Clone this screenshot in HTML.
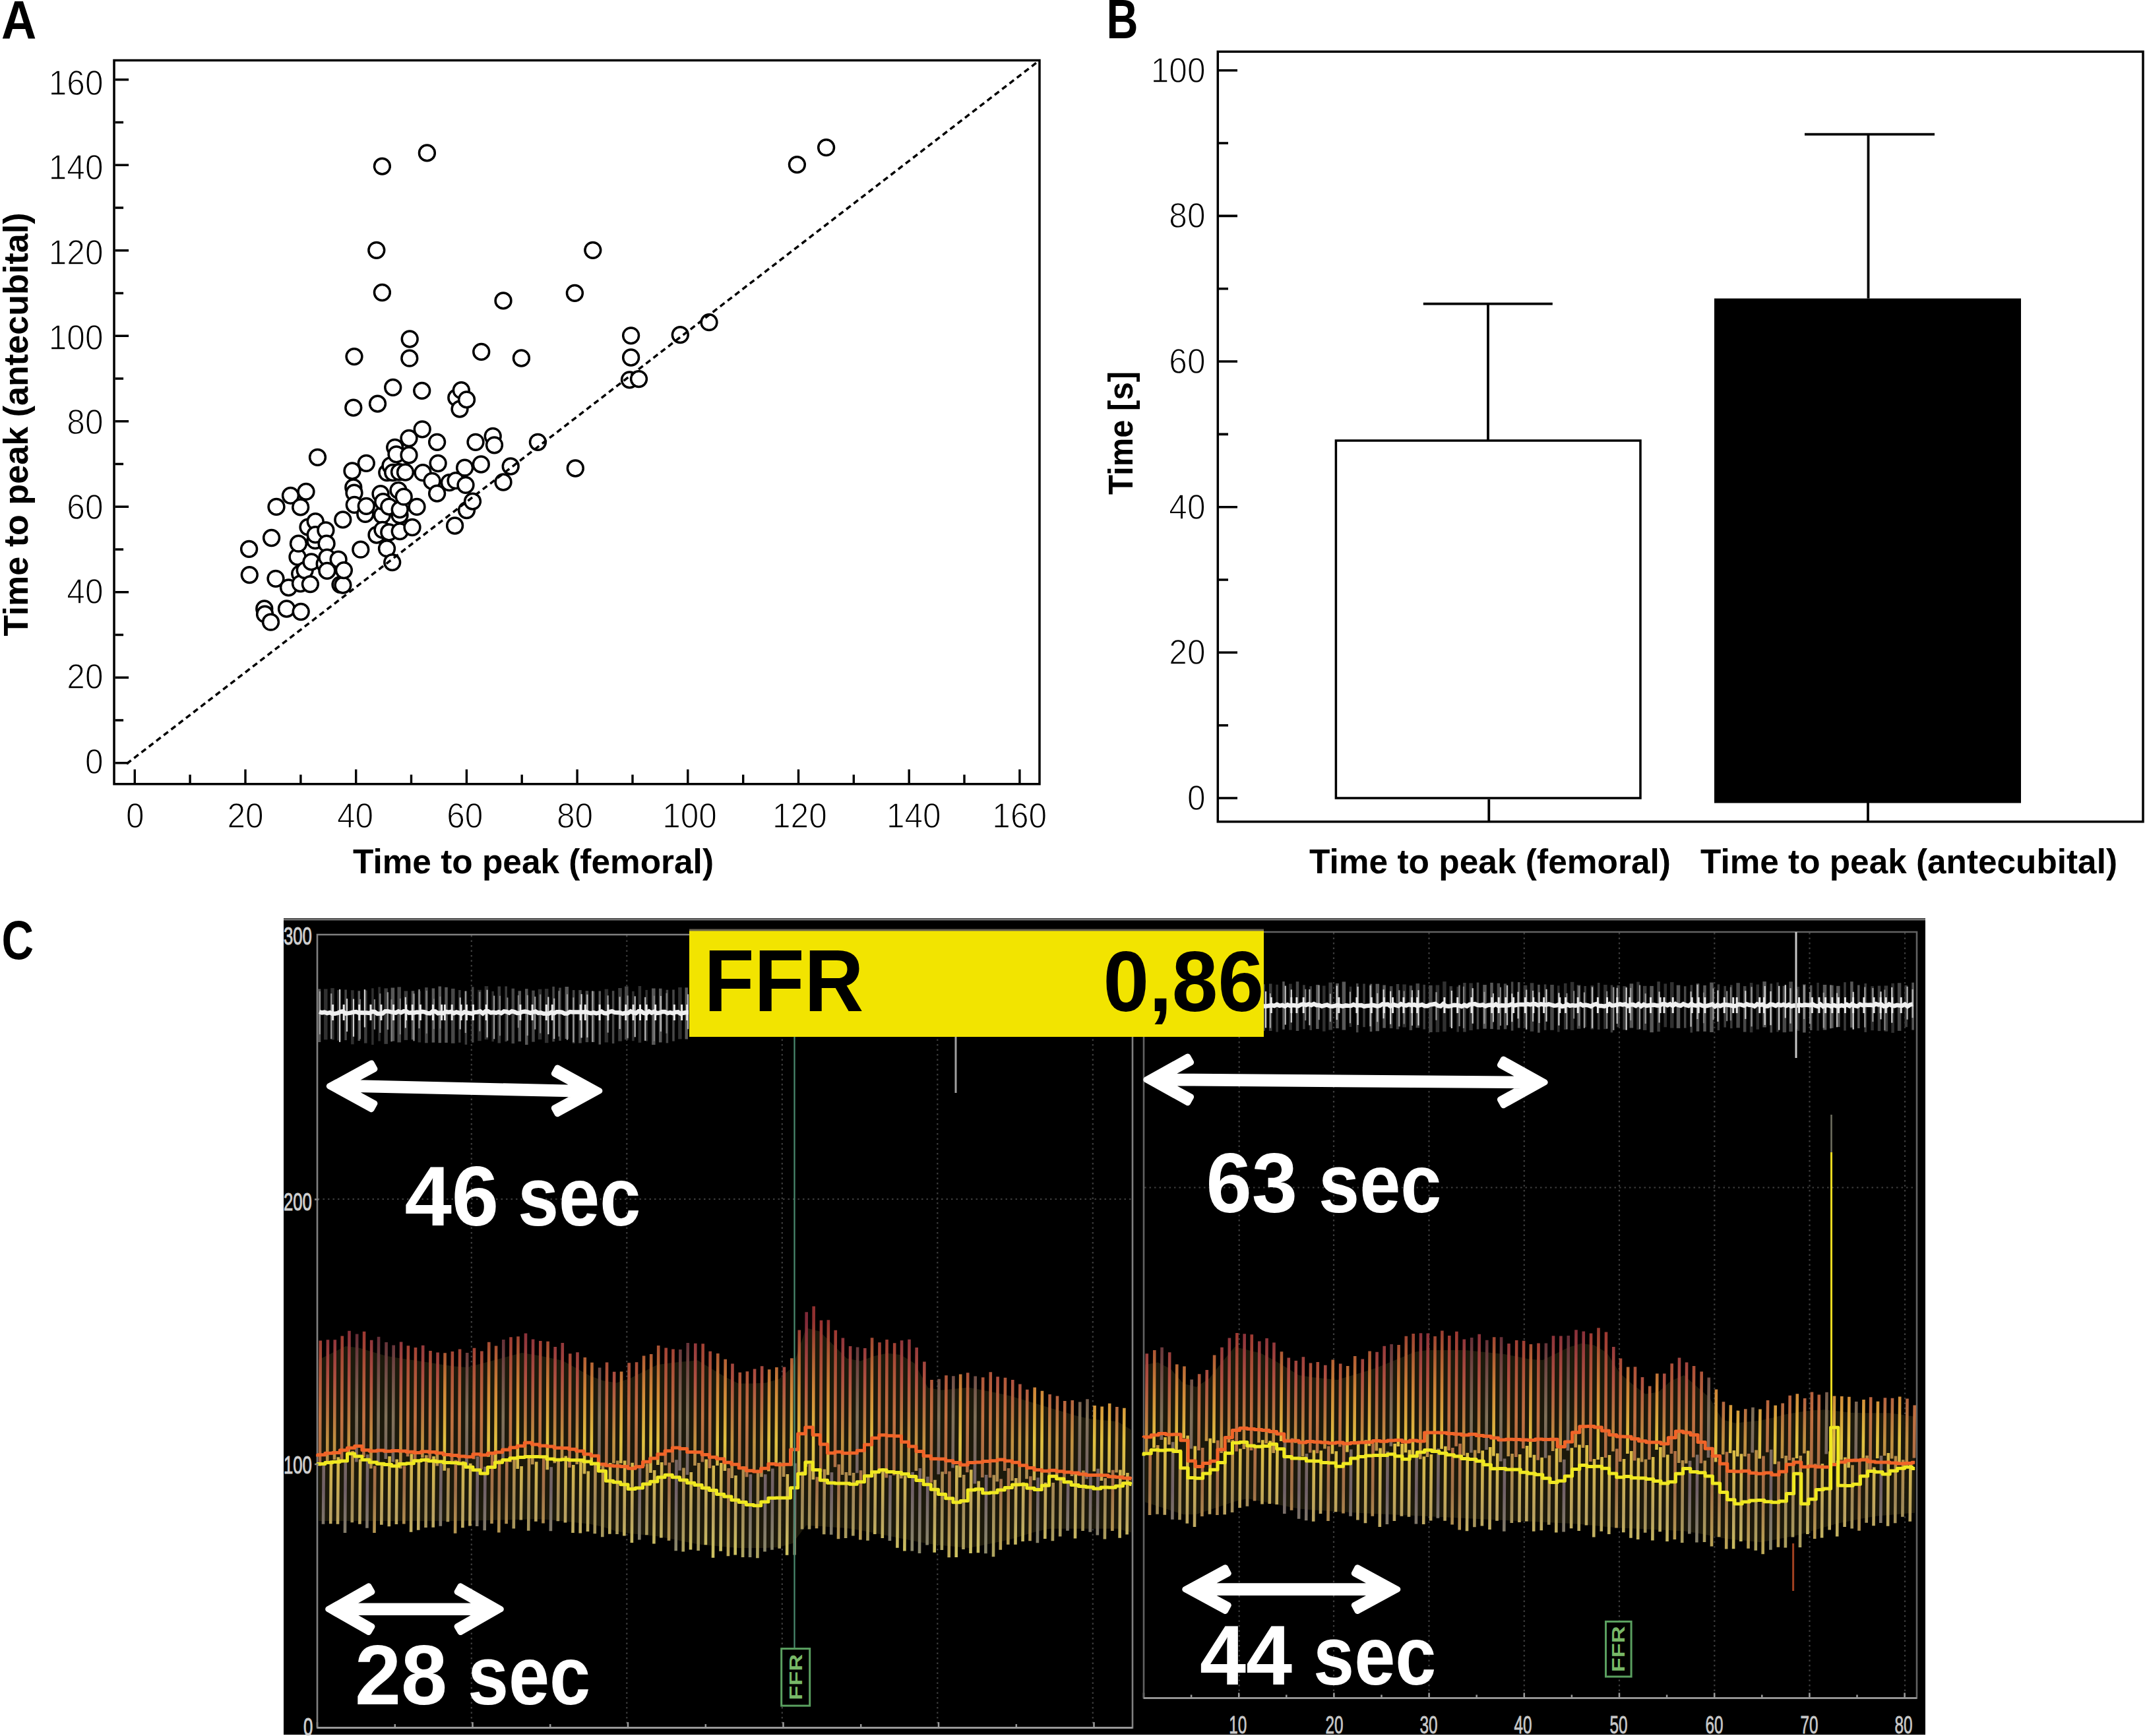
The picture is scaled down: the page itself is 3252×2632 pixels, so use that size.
<!DOCTYPE html>
<html><head><meta charset="utf-8"><style>html,body{margin:0;padding:0;background:#fff;}svg{display:block}</style></head>
<body><svg width="3252" height="2632" viewBox="0 0 3252 2632">
<g id="panelA">
<text transform="translate(2,57.5) scale(0.9,1)" font-family="'Liberation Sans', sans-serif" font-weight="bold" font-size="82">A</text>
<rect x="173" y="91.5" width="1403" height="1097.2" fill="none" stroke="#000" stroke-width="3.5"/>
<path d="M174.6 1156.8H195.1 M204.3 1187H204.3V1166.5 M174.6 1092.0H187.1 M288.1 1187H288.1V1174.5 M174.6 1027.3H195.1 M372.0 1187H372.0V1166.5 M174.6 962.5H187.1 M455.9 1187H455.9V1174.5 M174.6 897.8H195.1 M539.7 1187H539.7V1166.5 M174.6 833.0H187.1 M623.5 1187H623.5V1174.5 M174.6 768.3H195.1 M707.4 1187H707.4V1166.5 M174.6 703.5H187.1 M791.2 1187H791.2V1174.5 M174.6 638.8H195.1 M875.1 1187H875.1V1166.5 M174.6 574.0H187.1 M959.0 1187H959.0V1174.5 M174.6 509.3H195.1 M1042.8 1187H1042.8V1166.5 M174.6 444.5H187.1 M1126.7 1187H1126.7V1174.5 M174.6 379.8H195.1 M1210.5 1187H1210.5V1166.5 M174.6 315.0H187.1 M1294.3 1187H1294.3V1174.5 M174.6 250.3H195.1 M1378.2 1187H1378.2V1166.5 M174.6 185.5H187.1 M1462.0 1187H1462.0V1174.5 M174.6 120.8H195.1 M1545.9 1187H1545.9V1166.5" stroke="#000" stroke-width="3.4" fill="none"/>
<g font-family="'Liberation Sans', sans-serif" font-size="54.5" fill="#000" stroke="#fff" stroke-width="1.3"><text transform="translate(156.5,1172.5) scale(0.91,1)" text-anchor="end">0</text><text transform="translate(204.8,1255) scale(0.91,1)" text-anchor="middle">0</text><text transform="translate(156.5,1043.9) scale(0.91,1)" text-anchor="end">20</text><text transform="translate(372.0,1255) scale(0.91,1)" text-anchor="middle">20</text><text transform="translate(156.5,915.3) scale(0.91,1)" text-anchor="end">40</text><text transform="translate(538.5,1255) scale(0.91,1)" text-anchor="middle">40</text><text transform="translate(156.5,786.7) scale(0.91,1)" text-anchor="end">60</text><text transform="translate(704.8,1255) scale(0.91,1)" text-anchor="middle">60</text><text transform="translate(156.5,658.1) scale(0.91,1)" text-anchor="end">80</text><text transform="translate(871.6,1255) scale(0.91,1)" text-anchor="middle">80</text><text transform="translate(156.5,529.5) scale(0.91,1)" text-anchor="end">100</text><text transform="translate(1045.5,1255) scale(0.91,1)" text-anchor="middle">100</text><text transform="translate(156.5,400.8) scale(0.91,1)" text-anchor="end">120</text><text transform="translate(1212.4,1255) scale(0.91,1)" text-anchor="middle">120</text><text transform="translate(156.5,272.2) scale(0.91,1)" text-anchor="end">140</text><text transform="translate(1385.3,1255) scale(0.91,1)" text-anchor="middle">140</text><text transform="translate(156.5,143.6) scale(0.91,1)" text-anchor="end">160</text><text transform="translate(1545.7,1255) scale(0.91,1)" text-anchor="middle">160</text></g>
<text x="535" y="1324" font-family="'Liberation Sans', sans-serif" font-weight="bold" font-size="52" textLength="547" lengthAdjust="spacingAndGlyphs">Time to peak (femoral)</text>
<text transform="translate(42,964.5) rotate(-90)" font-family="'Liberation Sans', sans-serif" font-weight="bold" font-size="52" textLength="642" lengthAdjust="spacingAndGlyphs">Time to peak (antecubital)</text>
<g id="pts" fill="#fff" stroke="#000" stroke-width="3.5"><circle cx="377.6" cy="832.4" r="11.9"/><circle cx="378.3" cy="871.6" r="11.9"/><circle cx="400.8" cy="923" r="11.9"/><circle cx="401.6" cy="931.2" r="11.9"/><circle cx="410.5" cy="943.2" r="11.9"/><circle cx="411.6" cy="815.5" r="11.9"/><circle cx="418" cy="877.3" r="11.9"/><circle cx="419" cy="768.4" r="11.9"/><circle cx="434.5" cy="923" r="11.9"/><circle cx="437.5" cy="890.8" r="11.9"/><circle cx="440.5" cy="751.4" r="11.9"/><circle cx="451" cy="844.4" r="11.9"/><circle cx="452.5" cy="824.2" r="11.9"/><circle cx="454.7" cy="869.8" r="11.9"/><circle cx="455.5" cy="884.8" r="11.9"/><circle cx="455.7" cy="768.9" r="11.9"/><circle cx="456.2" cy="927.5" r="11.9"/><circle cx="462.2" cy="864.6" r="11.9"/><circle cx="464" cy="745.4" r="11.9"/><circle cx="467" cy="799.1" r="11.9"/><circle cx="470.4" cy="885.6" r="11.9"/><circle cx="472" cy="851.9" r="11.9"/><circle cx="477.9" cy="819.7" r="11.9"/><circle cx="478.2" cy="790.6" r="11.9"/><circle cx="478.2" cy="810.7" r="11.9"/><circle cx="481.5" cy="693.3" r="11.9"/><circle cx="492.2" cy="854.9" r="11.9"/><circle cx="493.9" cy="804" r="11.9"/><circle cx="495.1" cy="824.2" r="11.9"/><circle cx="495.9" cy="845.1" r="11.9"/><circle cx="495.9" cy="865.4" r="11.9"/><circle cx="513.1" cy="848.1" r="11.9"/><circle cx="516" cy="886.3" r="11.9"/><circle cx="519.8" cy="787.9" r="11.9"/><circle cx="519.9" cy="887.1" r="11.9"/><circle cx="521.4" cy="864.6" r="11.9"/><circle cx="534" cy="714" r="11.9"/><circle cx="535.8" cy="618.1" r="11.9"/><circle cx="535.8" cy="739" r="11.9"/><circle cx="537" cy="747.2" r="11.9"/><circle cx="537" cy="540.6" r="11.9"/><circle cx="537.3" cy="765.4" r="11.9"/><circle cx="546.8" cy="833.2" r="11.9"/><circle cx="553.8" cy="779.4" r="11.9"/><circle cx="555.3" cy="702.3" r="11.9"/><circle cx="555.3" cy="767.4" r="11.9"/><circle cx="570.8" cy="379.3" r="11.9"/><circle cx="571" cy="811" r="11.9"/><circle cx="572.5" cy="612.1" r="11.9"/><circle cx="577" cy="748.7" r="11.9"/><circle cx="579.3" cy="781" r="11.9"/><circle cx="579.4" cy="252.1" r="11.9"/><circle cx="579.4" cy="443.5" r="11.9"/><circle cx="580" cy="803.3" r="11.9"/><circle cx="580.8" cy="760.7" r="11.9"/><circle cx="586.5" cy="831.7" r="11.9"/><circle cx="586.8" cy="716.5" r="11.9"/><circle cx="589.8" cy="768.1" r="11.9"/><circle cx="589.8" cy="807" r="11.9"/><circle cx="592" cy="706" r="11.9"/><circle cx="594.7" cy="852.6" r="11.9"/><circle cx="595.7" cy="587.4" r="11.9"/><circle cx="595.7" cy="716.5" r="11.9"/><circle cx="598.7" cy="678.3" r="11.9"/><circle cx="601" cy="688.8" r="11.9"/><circle cx="604" cy="743.4" r="11.9"/><circle cx="605.5" cy="715.7" r="11.9"/><circle cx="606" cy="781" r="11.9"/><circle cx="606.2" cy="772.6" r="11.9"/><circle cx="606.2" cy="805.6" r="11.9"/><circle cx="612.2" cy="753.2" r="11.9"/><circle cx="614.5" cy="716" r="11.9"/><circle cx="620" cy="664.5" r="11.9"/><circle cx="620" cy="690" r="11.9"/><circle cx="620.8" cy="543.2" r="11.9"/><circle cx="621.2" cy="514" r="11.9"/><circle cx="625" cy="799.5" r="11.9"/><circle cx="632" cy="768.4" r="11.9"/><circle cx="639.7" cy="592.4" r="11.9"/><circle cx="640.2" cy="650.8" r="11.9"/><circle cx="641" cy="716.7" r="11.9"/><circle cx="647.4" cy="231.9" r="11.9"/><circle cx="655.1" cy="729.4" r="11.9"/><circle cx="662.6" cy="670.3" r="11.9"/><circle cx="662.6" cy="748.1" r="11.9"/><circle cx="664.1" cy="702.5" r="11.9"/><circle cx="681.3" cy="731.7" r="11.9"/><circle cx="689.6" cy="797" r="11.9"/><circle cx="691" cy="728.7" r="11.9"/><circle cx="691.8" cy="602.9" r="11.9"/><circle cx="697" cy="620.1" r="11.9"/><circle cx="699.3" cy="591.7" r="11.9"/><circle cx="704.6" cy="709.2" r="11.9"/><circle cx="706" cy="735.4" r="11.9"/><circle cx="707.5" cy="605.9" r="11.9"/><circle cx="707.5" cy="773.6" r="11.9"/><circle cx="716.5" cy="760.1" r="11.9"/><circle cx="721" cy="670.3" r="11.9"/><circle cx="729.3" cy="704" r="11.9"/><circle cx="729.7" cy="533.4" r="11.9"/><circle cx="747.2" cy="661.3" r="11.9"/><circle cx="749.5" cy="674.8" r="11.9"/><circle cx="763" cy="731" r="11.9"/><circle cx="763" cy="455.9" r="11.9"/><circle cx="774.2" cy="707" r="11.9"/><circle cx="790.4" cy="543" r="11.9"/><circle cx="815.4" cy="670.3" r="11.9"/><circle cx="871.4" cy="444.4" r="11.9"/><circle cx="872.3" cy="710" r="11.9"/><circle cx="898.8" cy="379.3" r="11.9"/><circle cx="954.5" cy="575.8" r="11.9"/><circle cx="956.6" cy="508.8" r="11.9"/><circle cx="956.6" cy="542" r="11.9"/><circle cx="968.5" cy="574.6" r="11.9"/><circle cx="1031.3" cy="507.6" r="11.9"/><circle cx="1075" cy="488.7" r="11.9"/><circle cx="1208.4" cy="249.6" r="11.9"/><circle cx="1252.6" cy="223.7" r="11.9"/></g>
<line x1="192" y1="1158" x2="1576" y2="91.5" stroke="#000" stroke-width="3.5" stroke-dasharray="8.4 5.8"/>
</g>
<g id="panelB">
<text transform="translate(1677.5,57.5) scale(0.80,1)" font-family="'Liberation Sans', sans-serif" font-weight="bold" font-size="83">B</text>
<rect x="1846.3" y="78.3" width="1402.7" height="1167.5" fill="none" stroke="#000" stroke-width="3.5"/>
<path d="M1848 1210.0H1876.0 M1848 1099.7H1862.0 M1848 989.3H1876.0 M1848 879.0H1862.0 M1848 768.7H1876.0 M1848 658.4H1862.0 M1848 548.0H1876.0 M1848 437.7H1862.0 M1848 327.4H1876.0 M1848 217.0H1862.0 M1848 106.7H1876.0" stroke="#000" stroke-width="3.6" fill="none"/>
<g font-family="'Liberation Sans', sans-serif" font-size="54.5" fill="#000" stroke="#fff" stroke-width="1.3"><text transform="translate(1827.5,1227.8) scale(0.91,1)" text-anchor="end">0</text><text transform="translate(1827.5,1007.2) scale(0.91,1)" text-anchor="end">20</text><text transform="translate(1827.5,786.5) scale(0.91,1)" text-anchor="end">40</text><text transform="translate(1827.5,565.9) scale(0.91,1)" text-anchor="end">60</text><text transform="translate(1827.5,345.2) scale(0.91,1)" text-anchor="end">80</text><text transform="translate(1827.5,124.6) scale(0.91,1)" text-anchor="end">100</text></g>
<rect x="2025.4" y="668" width="461.6" height="542" fill="#fff" stroke="#000" stroke-width="3.5"/>
<path d="M2256 668V460.7M2157.8 460.7H2353.8M2257.3 1212V1245" stroke="#000" stroke-width="3.8" fill="none"/>
<rect x="2599" y="452.5" width="465" height="765" fill="#000"/>
<path d="M2832.5 452.5V203.6M2736 203.6H2933M2832 1217V1245" stroke="#000" stroke-width="3.8" fill="none"/>
<text transform="translate(1717,750) rotate(-90)" font-family="'Liberation Sans', sans-serif" font-weight="bold" font-size="52" textLength="187" lengthAdjust="spacingAndGlyphs">Time [s]</text>
<text x="1985" y="1324" font-family="'Liberation Sans', sans-serif" font-weight="bold" font-size="52" textLength="548" lengthAdjust="spacingAndGlyphs">Time to peak (femoral)</text>
<text x="2578" y="1324" font-family="'Liberation Sans', sans-serif" font-weight="bold" font-size="52" textLength="632" lengthAdjust="spacingAndGlyphs">Time to peak (antecubital)</text>
</g>
<g id="panelC">
<text transform="translate(2.5,1453.5) scale(0.80,1)" font-family="'Liberation Sans', sans-serif" font-weight="bold" font-size="84">C</text>
<rect x="430" y="1392" width="2489" height="1238" fill="#000"/>
<rect x="430" y="1392.5" width="2489" height="3" fill="#707070"/>
<path d="M714.8 1418V2618 M950.3 1418V2618 M1185.8 1418V2618 M1421.3 1418V2618 M1656.8 1418V2618 M482 1818H1716" stroke="#3e3e3e" stroke-width="2.2" stroke-dasharray="2.5 5" fill="none"/>
<path d="M1878.7 1414V2573 M2022 1414V2573 M2166.5 1414V2573 M2310.8 1414V2573 M2455 1414V2573 M2599.3 1414V2573 M2743.5 1414V2573 M2888 1414V2573 M1735 1800.5H2905" stroke="#3e3e3e" stroke-width="2.2" stroke-dasharray="2.5 5" fill="none"/>
<path d="M481.0 2619V2611 M598.8 2619V2614 M716.5 2619V2611 M834.2 2619V2614 M952.0 2619V2611 M1069.8 2619V2614 M1187.5 2619V2611 M1305.2 2619V2614 M1423.0 2619V2611 M1540.8 2619V2614 M1658.5 2619V2611 M1734.0 2574.5V2566.5 M1806.1 2574.5V2569.5 M1878.2 2574.5V2566.5 M1950.3 2574.5V2569.5 M2022.4 2574.5V2566.5 M2094.5 2574.5V2569.5 M2166.6 2574.5V2566.5 M2238.7 2574.5V2569.5 M2310.8 2574.5V2566.5 M2382.9 2574.5V2569.5 M2455.0 2574.5V2566.5 M2527.1 2574.5V2569.5 M2599.2 2574.5V2566.5 M2671.3 2574.5V2569.5 M2743.4 2574.5V2566.5 M2815.5 2574.5V2569.5 M2887.6 2574.5V2566.5" stroke="#9a9a9a" stroke-width="2.5" fill="none"/>
<path d="M481 1417H1717V2619.5H481Z" fill="none" stroke="#808080" stroke-width="2.6"/>
<path d="M1734 1413H2906V2574.5H1734Z" fill="none" stroke="#626262" stroke-width="2.6"/>
<path d="M481 2619.5H1717M1734 2574.5H2906" fill="none" stroke="#a0a0a0" stroke-width="2.6"/>
<defs>
<linearGradient id="gA" gradientUnits="userSpaceOnUse" x1="0" y1="2000" x2="0" y2="2370">
<stop offset="0" stop-color="#802838"/><stop offset="0.25" stop-color="#b05040"/><stop offset="0.5" stop-color="#c09040"/><stop offset="0.75" stop-color="#a08858"/><stop offset="1" stop-color="#b0a860"/></linearGradient>
<linearGradient id="gB" gradientUnits="userSpaceOnUse" x1="0" y1="2000" x2="0" y2="2370">
<stop offset="0" stop-color="#903030"/><stop offset="0.3" stop-color="#d08838"/><stop offset="0.5" stop-color="#e0c040"/><stop offset="0.8" stop-color="#b8a060"/><stop offset="1" stop-color="#d0c860"/></linearGradient>
<linearGradient id="gC" gradientUnits="userSpaceOnUse" x1="0" y1="2000" x2="0" y2="2370">
<stop offset="0" stop-color="#602030"/><stop offset="0.4" stop-color="#807058"/><stop offset="0.7" stop-color="#706068"/><stop offset="1" stop-color="#90906a"/></linearGradient>
<linearGradient id="gD" gradientUnits="userSpaceOnUse" x1="0" y1="2000" x2="0" y2="2370">
<stop offset="0" stop-color="#983030"/><stop offset="0.4" stop-color="#c07040"/><stop offset="0.7" stop-color="#a07048"/><stop offset="1" stop-color="#c0b058"/></linearGradient>
</defs>
<path d="M483.0 2061.6 L503.5 2051.3 L524.1 2041.1 L544.6 2043.5 L565.1 2049.7 L585.7 2055.8 L606.2 2059.2 L626.7 2062.3 L647.3 2065.3 L667.8 2068.4 L688.3 2071.5 L708.9 2072.9 L729.4 2067.5 L749.9 2062.0 L770.5 2056.5 L791.0 2051.0 L811.5 2054.2 L832.1 2058.3 L852.6 2062.7 L873.1 2074.1 L893.7 2085.5 L914.2 2093.2 L934.7 2096.6 L955.3 2089.8 L975.8 2079.5 L996.3 2069.3 L1016.9 2066.3 L1037.4 2064.2 L1057.9 2062.6 L1078.5 2074.9 L1099.0 2087.2 L1119.5 2097.5 L1140.1 2097.5 L1160.6 2096.5 L1181.1 2090.7 L1201.7 2072.6 L1222.2 2013.2 L1242.7 2018.5 L1263.3 2039.0 L1283.8 2059.5 L1304.3 2063.6 L1324.9 2055.9 L1345.4 2051.4 L1365.9 2054.3 L1386.5 2067.1 L1407.0 2104.1 L1427.5 2107.5 L1448.1 2105.4 L1468.6 2103.4 L1489.1 2107.5 L1509.7 2111.6 L1530.2 2116.0 L1550.7 2122.1 L1571.3 2128.3 L1591.8 2134.4 L1612.3 2140.6 L1632.9 2146.8 L1653.4 2151.2 L1673.9 2153.3 L1694.5 2155.3 L1715.0 2167.7 L1715.0 2323.4 L1694.5 2317.7 L1673.9 2317.7 L1653.4 2317.7 L1632.9 2317.7 L1612.3 2317.7 L1591.8 2317.7 L1571.3 2322.1 L1550.7 2328.3 L1530.2 2334.4 L1509.7 2338.8 L1489.1 2342.9 L1468.6 2347.1 L1448.1 2345.0 L1427.5 2343.0 L1407.0 2340.6 L1386.5 2336.5 L1365.9 2332.4 L1345.4 2328.3 L1324.9 2324.2 L1304.3 2320.1 L1283.8 2317.1 L1263.3 2315.6 L1242.7 2314.1 L1222.2 2312.7 L1201.7 2340.0 L1181.1 2345.7 L1160.6 2347.1 L1140.1 2347.1 L1119.5 2347.1 L1099.0 2345.3 L1078.5 2343.3 L1057.9 2341.2 L1037.4 2337.2 L1016.9 2333.1 L996.3 2329.2 L975.8 2327.1 L955.3 2325.1 L934.7 2321.8 L914.2 2315.0 L893.7 2310.6 L873.1 2308.4 L852.6 2306.2 L832.1 2304.0 L811.5 2303.3 L791.0 2303.8 L770.5 2304.3 L749.9 2304.8 L729.4 2305.3 L708.9 2305.8 L688.3 2305.9 L667.8 2305.9 L647.3 2305.9 L626.7 2305.9 L606.2 2305.9 L585.7 2305.9 L565.1 2305.9 L544.6 2305.9 L524.1 2305.9 L503.5 2305.9 L483.0 2305.9Z" fill="#1e1a0c" opacity="0.95"/>
<path d="M496.2 2218.3L497.0 2031.3 M507.0 2213.3L507.8 2031.3 M528.7 2203.7L529.5 2017.8 M533.8 2308.3L534.6 2199.7 M562.4 2226.4L563.2 2031.7 M607.3 2226.5L608.1 2034.5 M640.4 2210.2L641.2 2039.8 M645.5 2315.9L646.3 2206.2 M662.8 2222.5L663.6 2050.4 M678.9 2307.2L679.7 2225.8 M778.8 2317.4L779.6 2212.8 M796.2 2210.2L797.0 2021.4 M801.2 2320.7L802.0 2206.2 M807.3 2220.3L808.1 2030.4 M840.9 2218.3L841.7 2042.1 M845.9 2306.2L846.7 2214.3 M852.0 2211.4L852.8 2035.9 M874.7 2220.0L875.5 2050.2 M901.8 2325.3L902.6 2217.9 M913.3 2330.3L914.1 2222.0 M930.4 2218.6L931.2 2079.7 M935.5 2325.9L936.3 2214.6 M980.4 2327.3L981.2 2219.2 M1035.7 2352.6L1036.5 2225.5 M1053.5 2222.0L1054.3 2036.7 M1058.6 2350.9L1059.4 2218.0 M1109.7 2240.9L1110.5 2067.6 M1126.1 2360.9L1126.9 2222.9 M1143.3 2232.4L1144.1 2075.6 M1148.4 2362.2L1149.2 2228.4 M1154.4 2239.2L1155.2 2071.2 M1181.7 2347.7L1182.5 2216.7 M1188.1 2238.9L1188.9 2072.5 M1216.1 2318.4L1216.9 2230.7 M1221.9 2223.7L1222.7 1989.3 M1227.0 2318.4L1227.8 2219.7 M1249.2 2326.3L1250.0 2227.4 M1277.1 2236.0L1277.9 2028.4 M1282.1 2331.9L1282.9 2232.0 M1288.3 2237.1L1289.1 2041.0 M1293.3 2328.6L1294.1 2233.1 M1310.5 2244.1L1311.3 2044.0 M1315.5 2335.8L1316.3 2240.1 M1366.3 2241.6L1367.1 2032.3 M1377.7 2236.0L1378.5 2030.8 M1388.9 2230.1L1389.7 2042.9 M1400.6 2242.8L1401.4 2064.5 M1427.9 2350.0L1428.7 2231.3 M1460.5 2349.0L1461.3 2236.1 M1506.0 2360.3L1506.8 2236.3 M1511.8 2246.2L1512.6 2087.2 M1534.5 2244.9L1535.3 2092.0 M1545.6 2251.5L1546.4 2098.4 M1556.5 2242.3L1557.3 2106.8 M1590.8 2252.0L1591.6 2114.0 M1595.9 2336.3L1596.7 2248.0 M1602.2 2244.1L1603.0 2116.6 M1607.2 2329.5L1608.0 2240.1 M1625.0 2237.9L1625.8 2122.9 M1641.6 2321.0L1642.4 2229.5 M1674.9 2333.5L1675.7 2241.1 M1692.6 2232.4L1693.4 2132.9" stroke="url(#gA)" stroke-width="4.6" fill="none"/>
<path d="M501.2 2310.2L502.0 2214.3 M512.0 2310.7L512.8 2209.3 M545.4 2310.7L546.2 2212.4 M578.3 2311.7L579.1 2217.8 M589.8 2314.2L590.6 2208.1 M600.9 2311.1L601.7 2212.6 M623.1 2322.7L623.9 2204.2 M634.2 2319.8L635.0 2213.1 M656.7 2315.7L657.5 2208.0 M673.8 2229.8L674.6 2051.3 M701.4 2316.2L702.2 2215.6 M712.4 2313.6L713.2 2218.7 M740.5 2208.8L741.3 2034.8 M751.3 2217.0L752.1 2040.4 M784.7 2227.1L785.5 2026.3 M789.8 2304.4L790.6 2223.1 M812.4 2306.7L813.2 2216.3 M829.8 2228.3L830.6 2033.8 M857.0 2308.6L857.8 2207.4 M868.5 2324.0L869.3 2221.1 M879.7 2324.5L880.5 2216.0 M886.0 2234.5L886.8 2058.1 M891.0 2322.0L891.8 2230.5 M896.7 2221.9L897.5 2065.8 M924.3 2325.7L925.1 2217.9 M941.3 2218.4L942.1 2079.5 M946.4 2328.5L947.2 2214.4 M957.9 2339.0L958.7 2217.7 M975.3 2223.2L976.1 2055.5 M986.4 2233.1L987.2 2052.9 M991.4 2340.6L992.2 2229.1 M997.4 2221.0L998.2 2039.9 M1002.4 2331.5L1003.2 2217.0 M1047.0 2349.4L1047.8 2232.0 M1069.9 2342.3L1070.7 2212.5 M1081.0 2361.8L1081.8 2222.0 M1087.5 2221.9L1088.3 2051.9 M1092.6 2351.8L1093.4 2217.9 M1098.9 2230.0L1099.7 2060.8 M1114.7 2357.5L1115.5 2236.9 M1165.4 2230.4L1166.2 2076.2 M1176.6 2220.7L1177.4 2073.1 M1193.1 2357.7L1193.9 2234.9 M1199.6 2222.5L1200.4 2059.3 M1211.0 2234.7L1211.8 2016.6 M1232.9 2243.3L1233.7 1980.5 M1255.1 2236.3L1255.9 2001.2 M1321.3 2234.6L1322.1 2028.3 M1326.3 2325.9L1327.1 2230.6 M1337.8 2331.9L1338.6 2226.1 M1360.4 2346.8L1361.2 2232.8 M1371.4 2351.4L1372.2 2237.6 M1416.7 2353.7L1417.5 2243.8 M1449.7 2360.9L1450.5 2221.4 M1455.4 2240.1L1456.2 2083.5 M1471.5 2355.1L1472.3 2228.3 M1482.9 2354.3L1483.7 2245.4 M1539.5 2341.7L1540.3 2240.9 M1550.6 2337.1L1551.4 2247.5 M1567.9 2244.2L1568.7 2103.6 M1579.2 2251.8L1580.0 2108.8 M1584.3 2333.0L1585.1 2247.8 M1630.0 2332.4L1630.8 2233.9 M1658.8 2230.8L1659.6 2130.9 M1669.9 2245.1L1670.7 2132.5 M1681.4 2232.7L1682.2 2127.8 M1697.6 2331.8L1698.4 2228.4 M1703.6 2237.0L1704.4 2134.8 M1708.6 2326.5L1709.4 2233.0" stroke="url(#gB)" stroke-width="4.6" fill="none"/>
<path d="M490.0 2310.7L490.8 2218.7 M523.0 2323.9L523.8 2213.4 M540.4 2216.4L541.2 2022.4 M556.4 2316.7L557.2 2205.2 M573.3 2221.8L574.1 2026.8 M584.8 2212.1L585.6 2034.9 M595.9 2216.6L596.7 2039.6 M667.8 2313.8L668.6 2218.5 M707.4 2222.7L708.2 2050.9 M723.2 2313.9L724.0 2208.2 M734.7 2320.2L735.5 2223.8 M762.5 2215.6L763.3 2031.0 M834.9 2321.3L835.7 2224.3 M908.3 2226.0L909.1 2073.6 M969.3 2334.4L970.1 2221.6 M1024.7 2351.3L1025.5 2213.3 M1030.6 2229.5L1031.4 2045.9 M1042.0 2236.0L1042.8 2036.0 M1137.1 2361.0L1137.9 2235.3 M1159.5 2352.5L1160.3 2235.2 M1170.5 2349.8L1171.3 2226.4 M1204.6 2357.4L1205.4 2218.5 M1260.2 2326.7L1261.0 2232.3 M1299.3 2233.3L1300.1 2042.5 M1348.9 2336.1L1349.7 2236.5 M1382.8 2351.5L1383.6 2232.0 M1394.0 2355.0L1394.8 2226.1 M1405.6 2342.5L1406.4 2238.8 M1422.8 2235.3L1423.6 2090.7 M1444.6 2225.4L1445.4 2086.2 M1477.9 2249.4L1478.7 2086.5 M1494.4 2355.2L1495.2 2236.0 M1572.9 2339.2L1573.7 2240.2 M1618.5 2320.8L1619.3 2244.1 M1636.5 2233.5L1637.3 2125.5 M1647.7 2242.3L1648.5 2121.3 M1652.7 2322.8L1653.5 2238.3 M1663.8 2327.5L1664.6 2226.8" stroke="url(#gC)" stroke-width="4.6" fill="none"/>
<path d="M485.0 2222.7L485.8 2032.5 M518.0 2217.4L518.8 2025.4 M551.3 2209.2L552.1 2018.7 M567.5 2323.9L568.3 2222.4 M612.3 2310.4L613.1 2222.5 M618.1 2208.2L618.9 2040.2 M629.2 2217.1L630.0 2042.9 M651.7 2212.0L652.5 2048.0 M685.1 2217.4L685.9 2048.9 M690.1 2324.8L690.9 2213.4 M696.3 2219.6L697.1 2045.5 M718.2 2212.2L719.0 2043.7 M729.6 2227.8L730.4 2048.6 M745.5 2309.9L746.3 2204.8 M756.3 2323.4L757.1 2213.0 M767.6 2310.3L768.4 2211.6 M773.7 2216.8L774.5 2027.2 M818.5 2211.1L819.3 2032.9 M823.5 2309.6L824.3 2207.1 M863.5 2225.1L864.3 2052.2 M919.3 2221.9L920.1 2065.4 M952.9 2221.7L953.7 2066.2 M964.3 2225.6L965.1 2065.3 M1008.9 2221.5L1009.7 2043.5 M1014.0 2335.7L1014.8 2217.5 M1019.7 2217.3L1020.5 2045.4 M1064.9 2216.5L1065.7 2037.3 M1075.9 2226.0L1076.7 2048.8 M1103.9 2359.2L1104.7 2226.0 M1121.0 2226.9L1121.8 2080.7 M1132.1 2239.3L1132.9 2079.3 M1238.0 2317.3L1238.8 2239.3 M1244.2 2231.4L1245.0 2001.8 M1266.0 2224.3L1266.8 2016.7 M1271.0 2333.3L1271.8 2220.3 M1304.3 2334.6L1305.1 2229.3 M1332.7 2230.1L1333.5 2035.3 M1343.8 2240.5L1344.6 2030.9 M1355.4 2236.8L1356.2 2036.2 M1411.7 2247.8L1412.5 2092.0 M1433.7 2234.8L1434.5 2085.3 M1438.7 2361.2L1439.5 2230.8 M1466.4 2232.3L1467.2 2081.2 M1489.4 2240.0L1490.2 2088.3 M1501.0 2240.3L1501.8 2080.2 M1516.8 2349.7L1517.6 2242.2 M1523.2 2230.1L1524.0 2088.8 M1528.3 2341.8L1529.1 2226.1 M1561.5 2336.2L1562.3 2238.3 M1613.5 2248.1L1614.3 2124.1 M1686.4 2321.1L1687.2 2228.7" stroke="url(#gD)" stroke-width="4.6" fill="none"/>
<path d="M1736.0 2069.1 L1755.5 2065.6 L1774.9 2075.5 L1794.3 2097.7 L1813.8 2102.7 L1833.2 2090.1 L1852.7 2065.1 L1872.2 2041.8 L1891.6 2046.7 L1911.0 2051.5 L1930.5 2061.5 L1950.0 2073.2 L1969.4 2084.9 L1988.8 2088.0 L2008.3 2089.9 L2027.8 2091.9 L2047.2 2086.0 L2066.7 2080.2 L2086.1 2074.1 L2105.6 2066.0 L2125.0 2057.9 L2144.4 2049.8 L2163.9 2047.1 L2183.3 2047.1 L2202.8 2047.1 L2222.2 2047.1 L2241.7 2049.0 L2261.2 2050.9 L2280.6 2053.0 L2300.1 2056.8 L2319.5 2060.7 L2338.9 2062.1 L2358.4 2052.4 L2377.8 2042.7 L2397.3 2036.8 L2416.8 2039.6 L2436.2 2050.7 L2455.7 2081.8 L2475.1 2098.8 L2494.6 2113.4 L2514.0 2110.4 L2533.4 2093.4 L2552.9 2085.0 L2572.3 2102.0 L2591.8 2119.0 L2611.2 2152.3 L2630.7 2157.5 L2650.2 2155.5 L2669.6 2153.6 L2689.1 2148.9 L2708.5 2144.1 L2727.9 2140.7 L2747.4 2138.3 L2766.8 2137.3 L2786.3 2139.5 L2805.8 2141.7 L2825.2 2142.2 L2844.7 2142.2 L2864.1 2142.2 L2883.6 2144.8 L2903.0 2147.8 L2903.0 2293.7 L2883.6 2295.3 L2864.1 2297.0 L2844.7 2298.7 L2825.2 2302.0 L2805.8 2305.9 L2786.3 2309.7 L2766.8 2315.2 L2747.4 2321.1 L2727.9 2326.9 L2708.5 2330.9 L2689.1 2334.8 L2669.6 2338.2 L2650.2 2336.3 L2630.7 2334.4 L2611.2 2332.0 L2591.8 2328.1 L2572.3 2324.2 L2552.9 2321.3 L2533.4 2320.3 L2514.0 2319.4 L2494.6 2318.4 L2475.1 2317.4 L2455.7 2316.4 L2436.2 2314.9 L2416.8 2313.0 L2397.3 2311.0 L2377.8 2309.7 L2358.4 2308.8 L2338.9 2307.8 L2319.5 2306.8 L2300.1 2305.9 L2280.6 2304.9 L2261.2 2303.9 L2241.7 2302.9 L2222.2 2302.0 L2202.8 2301.0 L2183.3 2300.0 L2163.9 2299.0 L2144.4 2298.1 L2125.0 2297.1 L2105.6 2296.1 L2086.1 2295.2 L2066.7 2294.2 L2047.2 2293.1 L2027.8 2291.8 L2008.3 2290.5 L1988.8 2289.2 L1969.4 2287.6 L1950.0 2283.7 L1930.5 2279.8 L1911.0 2275.9 L1891.6 2272.0 L1872.2 2276.5 L1852.7 2283.0 L1833.2 2289.5 L1813.8 2295.9 L1794.3 2296.2 L1774.9 2289.9 L1755.5 2283.7 L1736.0 2277.5Z" fill="#1e1a0c" opacity="0.95"/>
<path d="M1738.0 2201.4L1738.8 2052.2 M1754.5 2295.7L1755.3 2191.0 M1772.4 2190.2L1773.2 2050.3 M1788.5 2304.2L1789.3 2197.5 M1829.0 2184.7L1829.8 2077.1 M1851.7 2203.1L1852.5 2042.8 M1863.1 2187.0L1863.9 2028.6 M1868.1 2293.0L1868.9 2183.0 M1885.9 2197.0L1886.7 2022.3 M1890.9 2283.8L1891.7 2193.0 M1908.5 2187.3L1909.3 2033.6 M1919.8 2188.4L1920.6 2028.9 M1930.7 2203.1L1931.5 2035.4 M1953.0 2184.4L1953.8 2058.4 M1964.0 2187.8L1964.8 2063.0 M1975.1 2208.1L1975.9 2057.2 M2008.5 2196.5L2009.3 2069.8 M2065.0 2187.2L2065.8 2060.6 M2086.8 2199.6L2087.6 2049.7 M2097.9 2204.6L2098.7 2040.7 M2153.2 2212.2L2154.0 2021.2 M2164.0 2209.0L2164.8 2021.4 M2219.0 2206.8L2219.8 2030.6 M2235.4 2315.2L2236.2 2198.4 M2241.9 2203.3L2242.7 2022.7 M2286.7 2208.1L2287.5 2036.9 M2291.8 2309.0L2292.6 2204.1 M2348.2 2311.8L2349.0 2206.4 M2354.2 2200.0L2355.0 2025.2 M2365.6 2216.8L2366.4 2025.4 M2388.7 2194.5L2389.5 2016.2 M2400.0 2194.9L2400.8 2018.6 M2445.5 2200.5L2446.3 2042.1 M2489.2 2216.6L2490.0 2088.1 M2494.2 2323.7L2495.0 2212.6 M2522.5 2209.4L2523.3 2082.5 M2545.2 2218.1L2546.0 2058.6 M2550.2 2339.1L2551.0 2214.1 M2556.3 2218.7L2557.1 2065.4 M2584.0 2338.0L2584.8 2214.4 M2612.2 2205.3L2613.0 2125.3 M2645.5 2208.1L2646.3 2136.2 M2661.8 2350.8L2662.6 2198.4 M2701.9 2211.1L2702.7 2127.4 M2706.9 2346.5L2707.7 2207.1 M2718.0 2330.6L2718.8 2209.9 M2729.0 2346.0L2729.8 2206.9 M2735.4 2203.6L2736.2 2120.0 M2807.7 2317.5L2808.5 2221.2 M2829.7 2308.7L2830.5 2206.7 M2857.1 2206.9L2857.9 2119.3 M2868.2 2211.4L2869.0 2119.8 M2873.2 2309.3L2874.0 2207.4 M2884.4 2299.7L2885.2 2213.2 M2890.7 2221.8L2891.5 2120.6" stroke="url(#gA)" stroke-width="4.6" fill="none"/>
<path d="M1749.5 2195.0L1750.3 2047.0 M1765.8 2296.8L1766.6 2179.0 M1783.5 2201.5L1784.3 2068.4 M1794.7 2180.6L1795.5 2071.5 M1799.8 2309.8L1800.6 2176.6 M1811.0 2314.9L1811.8 2192.5 M1834.0 2295.8L1834.8 2180.7 M1840.3 2187.8L1841.1 2054.5 M1856.7 2296.3L1857.5 2199.1 M1879.6 2286.1L1880.4 2196.5 M1913.5 2280.5L1914.3 2183.3 M1924.8 2280.1L1925.6 2184.4 M1935.7 2281.0L1936.5 2199.1 M1942.2 2184.9L1943.0 2049.2 M1991.2 2306.7L1992.0 2198.4 M2002.0 2294.9L2002.8 2199.2 M2020.0 2204.3L2020.8 2061.5 M2025.0 2292.3L2025.8 2200.3 M2042.4 2201.6L2043.2 2071.1 M2053.4 2190.3L2054.2 2056.0 M2058.4 2304.4L2059.2 2186.3 M2070.0 2309.2L2070.8 2183.2 M2075.8 2192.2L2076.6 2048.6 M2091.8 2315.1L2092.6 2195.6 M2113.9 2305.9L2114.7 2188.7 M2119.8 2192.9L2120.6 2039.0 M2124.9 2298.7L2125.7 2188.9 M2131.0 2202.2L2131.8 2025.7 M2136.0 2299.8L2136.8 2198.2 M2141.9 2207.6L2142.7 2022.1 M2158.2 2311.1L2159.0 2208.2 M2169.1 2305.6L2169.9 2205.0 M2174.8 2200.2L2175.6 2026.1 M2185.6 2196.7L2186.4 2017.5 M2190.6 2305.7L2191.4 2192.7 M2224.0 2321.3L2224.8 2202.8 M2246.9 2313.4L2247.7 2199.3 M2258.5 2318.9L2259.3 2194.1 M2264.4 2207.5L2265.2 2027.2 M2269.5 2305.7L2270.3 2203.5 M2303.4 2308.1L2304.2 2205.1 M2314.3 2306.6L2315.1 2192.1 M2320.1 2209.8L2320.9 2038.1 M2325.2 2321.7L2326.0 2205.8 M2336.8 2320.3L2337.6 2209.8 M2359.3 2323.5L2360.1 2196.0 M2382.1 2317.3L2382.9 2195.3 M2393.7 2321.0L2394.5 2190.5 M2405.0 2312.4L2405.8 2190.9 M2416.3 2330.4L2417.1 2212.0 M2422.7 2212.9L2423.5 2013.2 M2427.8 2321.8L2428.6 2208.9 M2439.3 2326.0L2440.1 2206.0 M2461.3 2323.3L2462.1 2211.9 M2467.4 2204.1L2468.2 2072.5 M2472.5 2331.7L2473.3 2200.1 M2483.2 2334.1L2484.0 2210.5 M2505.4 2335.6L2506.2 2209.1 M2511.5 2198.0L2512.3 2082.6 M2516.6 2322.2L2517.4 2194.0 M2527.5 2337.1L2528.3 2205.4 M2601.1 2216.5L2601.9 2106.5 M2623.1 2203.1L2623.9 2130.2 M2628.1 2348.2L2628.9 2199.1 M2634.2 2208.3L2635.0 2138.6 M2639.3 2337.1L2640.1 2204.3 M2667.7 2211.5L2668.5 2136.4 M2690.9 2219.7L2691.7 2130.8 M2724.0 2210.9L2724.8 2113.2 M2740.4 2325.9L2741.2 2199.6 M2762.1 2331.4L2762.9 2219.3 M2773.7 2319.4L2774.5 2200.6 M2780.2 2218.5L2781.0 2116.4 M2785.2 2329.4L2786.0 2214.5 M2791.5 2213.5L2792.3 2117.0 M2796.6 2314.9L2797.4 2209.5 M2802.6 2225.2L2803.4 2117.7 M2824.7 2210.7L2825.5 2122.1 M2840.5 2313.2L2841.3 2224.5 M2846.2 2211.0L2847.0 2124.8 M2862.1 2313.7L2862.9 2202.9 M2879.4 2217.2L2880.2 2117.6 M2895.7 2306.8L2896.5 2217.8" stroke="url(#gB)" stroke-width="4.6" fill="none"/>
<path d="M1760.8 2183.0L1761.6 2042.8 M1777.4 2303.8L1778.2 2186.2 M1805.9 2196.5L1806.7 2091.4 M1947.3 2294.9L1948.1 2180.9 M1969.1 2302.8L1969.9 2183.8 M1980.2 2305.2L1981.0 2204.1 M2047.5 2298.8L2048.3 2197.6 M2102.9 2310.9L2103.7 2200.6 M2108.8 2192.7L2109.6 2037.9 M2146.9 2310.6L2147.7 2203.6 M2179.9 2301.8L2180.7 2196.2 M2230.4 2202.4L2231.2 2028.0 M2253.5 2198.1L2254.3 2031.8 M2275.3 2215.5L2276.1 2027.3 M2280.3 2321.7L2281.1 2211.5 M2343.1 2210.4L2343.9 2036.6 M2370.6 2322.5L2371.4 2212.8 M2377.0 2199.3L2377.8 2025.0 M2561.3 2325.5L2562.1 2214.7 M2572.4 2338.6L2573.2 2205.5 M2590.0 2210.0L2590.8 2088.5 M2656.7 2202.4L2657.5 2133.8 M2684.4 2349.7L2685.2 2197.8 M2768.7 2204.6L2769.5 2110.7 M2813.5 2216.4L2814.3 2125.1 M2851.3 2309.0L2852.1 2207.0" stroke="url(#gC)" stroke-width="4.6" fill="none"/>
<path d="M1743.0 2297.0L1743.8 2197.4 M1817.4 2198.9L1818.2 2083.3 M1822.4 2299.0L1823.2 2194.9 M1845.4 2297.1L1846.2 2183.8 M1874.6 2200.5L1875.4 2021.1 M1897.0 2198.9L1897.8 2023.2 M1902.1 2275.5L1902.9 2194.9 M1958.1 2289.7L1958.9 2180.4 M1986.2 2202.4L1987.0 2066.4 M1997.0 2203.2L1997.8 2065.1 M2013.5 2306.0L2014.3 2192.5 M2031.4 2193.5L2032.2 2067.6 M2036.5 2294.5L2037.3 2189.5 M2080.8 2298.8L2081.6 2188.2 M2196.5 2199.0L2197.3 2025.1 M2201.6 2311.4L2202.4 2195.0 M2207.6 2192.8L2208.4 2018.8 M2212.7 2319.6L2213.5 2188.8 M2298.4 2209.1L2299.2 2032.0 M2309.3 2196.1L2310.1 2032.7 M2331.7 2213.8L2332.5 2036.5 M2411.3 2216.0L2412.1 2021.5 M2434.2 2210.0L2435.0 2019.4 M2450.5 2316.5L2451.3 2196.5 M2456.2 2215.9L2457.0 2059.5 M2478.2 2214.5L2479.0 2072.2 M2500.4 2213.1L2501.2 2101.6 M2533.9 2203.9L2534.7 2067.3 M2538.9 2334.1L2539.7 2199.9 M2567.3 2209.5L2568.1 2070.9 M2578.9 2218.4L2579.7 2079.4 M2595.0 2344.4L2595.8 2206.0 M2606.2 2330.2L2607.0 2212.5 M2617.2 2348.4L2618.0 2201.3 M2650.5 2347.8L2651.3 2204.1 M2672.7 2356.3L2673.5 2207.5 M2679.3 2201.8L2680.1 2123.1 M2695.9 2345.7L2696.7 2215.7 M2712.9 2213.9L2713.7 2115.8 M2746.2 2223.2L2747.0 2110.5 M2751.2 2332.9L2752.0 2219.2 M2757.0 2223.3L2757.8 2114.4 M2818.5 2320.8L2819.3 2212.4 M2835.4 2228.5L2836.2 2118.2 M2901.9 2210.4L2902.7 2130.5" stroke="url(#gD)" stroke-width="4.6" fill="none"/>
<path d="M481.7 2208.5V2205.8H492.9V2203.2H504.1V2202.6H515.3V2198.8H526.5V2195.3H537.7V2192.4H548.9V2198.4H560.1V2200.0H571.3V2198.9H582.5V2200.3H593.7V2199.5H604.9V2199.9H616.1V2201.2H627.3V2202.6H638.5V2200.8H649.7V2201.4H660.9V2202.9H672.1V2205.5H683.3V2206.6H694.5V2208.1H705.7V2208.7H716.9V2204.8H728.1V2206.1H739.3V2203.3H750.5V2201.7H761.7V2198.1H772.9V2194.7H784.1V2192.2H795.3V2187.2H806.5V2190.1H817.7V2192.0H828.9V2193.0H840.1V2195.2H851.3V2195.5H862.5V2197.2H873.7V2199.9H884.9V2204.7H896.1V2207.3H907.3V2219.9H918.5V2221.9H929.7V2222.8H940.9V2223.6H952.1V2226.3H963.3V2223.8H974.5V2216.3H985.7V2211.1H996.9V2204.8H1008.1V2199.7H1019.3V2195.1H1030.5V2196.6H1041.7V2201.4H1052.9V2201.7H1064.1V2205.4H1075.3V2209.2H1086.5V2211.8H1097.7V2217.3H1108.9V2220.2H1120.1V2225.8H1131.3V2229.8H1142.5V2231.0H1153.7V2226.3H1164.9V2219.6H1176.1V2220.8H1187.3V2220.2H1198.5V2197.7H1209.7V2173.7H1220.9V2163.9H1232.1V2175.5H1243.3V2189.8H1254.5V2203.1H1265.7V2201.3H1276.9V2203.2H1288.1V2203.0H1299.3V2199.2H1310.5V2190.3H1321.7V2180.3H1332.9V2175.8H1344.1V2176.7H1355.3V2177.3H1366.5V2186.3H1377.7V2193.1H1388.9V2200.6H1400.1V2207.4H1411.3V2211.8H1422.5V2212.1H1433.7V2214.7H1444.9V2217.4H1456.1V2221.1H1467.3V2217.5H1478.5V2216.9H1489.7V2215.5H1500.9V2214.8H1512.1V2213.0H1523.3V2215.1H1534.5V2217.3H1545.7V2221.7H1556.9V2225.5H1568.1V2228.6H1579.3V2230.2H1590.5V2229.2H1601.7V2230.7H1612.9V2232.0H1624.1V2233.1H1635.3V2235.0H1646.5V2236.5H1657.7V2236.6H1668.9V2236.8H1680.1V2238.8H1691.3V2239.5H1702.5V2240.9H1713.7V2242.1H1715.3" stroke="#f06428" stroke-width="5" fill="none" stroke-linejoin="round"/>
<path d="M481.7 2220.2V2219.4H492.9V2217.5H504.1V2216.4H515.3V2215.1H526.5V2204.0H537.7V2208.0H548.9V2213.3H560.1V2217.0H571.3V2219.2H582.5V2220.4H593.7V2222.8H604.9V2219.6H616.1V2218.8H627.3V2214.7H638.5V2213.4H649.7V2214.9H660.9V2215.9H672.1V2217.6H683.3V2217.8H694.5V2219.0H705.7V2224.2H716.9V2228.7H728.1V2234.1H739.3V2224.4H750.5V2217.2H761.7V2213.5H772.9V2210.7H784.1V2209.6H795.3V2208.5H806.5V2208.6H817.7V2208.8H828.9V2212.0H840.1V2213.3H851.3V2212.7H862.5V2213.7H873.7V2213.8H884.9V2216.1H896.1V2219.1H907.3V2230.2H918.5V2245.3H929.7V2247.2H940.9V2250.8H952.1V2257.6H963.3V2256.1H974.5V2250.0H985.7V2246.2H996.9V2239.7H1008.1V2236.2H1019.3V2239.8H1030.5V2244.1H1041.7V2248.3H1052.9V2251.4H1064.1V2255.9H1075.3V2259.5H1086.5V2265.5H1097.7V2269.1H1108.9V2274.3H1120.1V2277.5H1131.3V2281.6H1142.5V2282.8H1153.7V2277.1H1164.9V2271.2H1176.1V2271.1H1187.3V2271.1H1198.5V2255.7H1209.7V2234.6H1220.9V2216.9H1232.1V2228.5H1243.3V2244.3H1254.5V2248.2H1265.7V2248.9H1276.9V2248.9H1288.1V2250.2H1299.3V2246.7H1310.5V2237.7H1321.7V2231.7H1332.9V2228.7H1344.1V2231.4H1355.3V2232.5H1366.5V2234.8H1377.7V2238.5H1388.9V2244.6H1400.1V2250.8H1411.3V2258.3H1422.5V2265.4H1433.7V2271.8H1444.9V2277.7H1456.1V2275.4H1467.3V2259.0H1478.5V2257.7H1489.7V2263.7H1500.9V2262.9H1512.1V2259.0H1523.3V2255.4H1534.5V2251.1H1545.7V2250.7H1556.9V2256.2H1568.1V2258.6H1579.3V2252.2H1590.5V2238.3H1601.7V2242.1H1612.9V2247.1H1624.1V2251.5H1635.3V2253.6H1646.5V2254.8H1657.7V2257.1H1668.9V2255.1H1680.1V2255.3H1691.3V2252.9H1702.5V2248.8H1713.7V2250.6H1715.3" stroke="#f0e820" stroke-width="5" fill="none" stroke-linejoin="round"/>
<path d="M1734.0 2179.4V2178.8H1745.2V2175.8H1756.4V2173.6H1767.6V2175.1H1778.8V2174.8H1790.0V2183.7H1801.2V2215.1H1812.4V2223.4H1823.6V2218.6H1834.8V2215.3H1846.0V2197.8H1857.2V2179.6H1868.4V2168.4H1879.6V2165.3H1890.8V2166.4H1902.0V2167.6H1913.2V2168.4H1924.4V2170.5H1935.6V2174.0H1946.8V2184.8H1958.0V2184.3H1969.2V2186.9H1980.4V2185.5H1991.6V2186.2H2002.8V2186.9H2014.0V2188.1H2025.2V2187.0H2036.4V2188.8H2047.6V2187.6H2058.8V2187.1H2070.0V2186.6H2081.2V2184.5H2092.4V2185.2H2103.6V2184.0H2114.8V2183.5H2126.0V2185.9H2137.2V2184.0H2148.4V2184.9H2159.6V2171.9H2170.8V2172.1H2182.0V2172.2H2193.2V2173.5H2204.4V2174.3H2215.6V2175.8H2226.8V2174.5H2238.0V2176.6H2249.2V2177.6H2260.4V2179.9H2271.6V2183.0H2282.8V2182.2H2294.0V2182.4H2305.2V2182.9H2316.4V2183.4H2327.6V2182.0H2338.8V2182.5H2350.0V2182.2H2361.2V2193.5H2372.4V2185.9H2383.6V2171.7H2394.8V2162.7H2406.0V2162.5H2417.2V2163.9H2428.4V2169.2H2439.6V2175.6H2450.8V2178.0H2462.0V2178.2H2473.2V2181.4H2484.4V2184.8H2495.6V2186.7H2506.8V2186.8H2518.0V2189.0H2529.2V2179.7H2540.4V2170.1H2551.6V2172.1H2562.8V2175.5H2574.0V2186.6H2585.2V2196.3H2596.4V2207.5H2607.6V2219.3H2618.8V2230.6H2630.0V2231.1H2641.2V2230.3H2652.4V2233.2H2663.6V2234.2H2674.8V2232.9H2686.0V2236.1H2697.2V2231.2H2708.4V2220.3H2719.6V2216.9H2730.8V2223.9H2742.0V2223.1H2753.2V2223.9H2764.4V2224.2H2775.6V2220.5H2786.8V2216.7H2798.0V2214.2H2809.2V2214.0H2820.4V2213.2H2831.6V2216.0H2842.8V2216.9H2854.0V2216.9H2865.2V2218.0H2876.4V2218.9H2887.6V2218.6H2898.8V2217.2H2903.2" stroke="#f06428" stroke-width="5" fill="none" stroke-linejoin="round"/>
<path d="M1734.0 2207.3V2203.8H1745.2V2198.3H1756.4V2199.0H1767.6V2198.2H1778.8V2200.6H1790.0V2225.7H1801.2V2240.4H1812.4V2241.3H1823.6V2234.1H1834.8V2228.3H1846.0V2217.5H1857.2V2203.2H1868.4V2187.6H1879.6V2186.5H1890.8V2192.1H1902.0V2193.3H1913.2V2192.5H1924.4V2189.6H1935.6V2196.8H1946.8V2208.5H1958.0V2211.0H1969.2V2211.3H1980.4V2215.1H1991.6V2215.3H2002.8V2217.4H2014.0V2218.1H2025.2V2223.2H2036.4V2218.9H2047.6V2210.9H2058.8V2208.6H2070.0V2207.1H2081.2V2206.6H2092.4V2206.6H2103.6V2204.8H2114.8V2207.7H2126.0V2212.3H2137.2V2207.7H2148.4V2201.8H2159.6V2198.6H2170.8V2200.5H2182.0V2203.2H2193.2V2205.8H2204.4V2208.0H2215.6V2211.6H2226.8V2212.4H2238.0V2215.3H2249.2V2220.7H2260.4V2226.7H2271.6V2226.5H2282.8V2228.0H2294.0V2228.1H2305.2V2232.2H2316.4V2233.9H2327.6V2235.8H2338.8V2241.3H2350.0V2247.4H2361.2V2245.3H2372.4V2238.1H2383.6V2227.6H2394.8V2221.6H2406.0V2223.6H2417.2V2223.2H2428.4V2226.3H2439.6V2233.9H2450.8V2239.8H2462.0V2238.6H2473.2V2240.7H2484.4V2241.1H2495.6V2242.5H2506.8V2245.5H2518.0V2249.1H2529.2V2246.7H2540.4V2234.3H2551.6V2226.5H2562.8V2231.4H2574.0V2232.7H2585.2V2238.0H2596.4V2248.9H2607.6V2262.4H2618.8V2273.7H2630.0V2280.0H2641.2V2276.9H2652.4V2274.9H2663.6V2274.5H2674.8V2276.8H2686.0V2277.8H2697.2V2276.1H2708.4V2264.4H2719.6V2234.2H2730.8V2280.0H2742.0V2272.9H2753.2V2258.4H2764.4V2256.9H2775.6V2164.2H2786.8V2252.2H2798.0V2252.5H2809.2V2250.2H2820.4V2237.9H2831.6V2230.5H2842.8V2231.8H2854.0V2235.0H2865.2V2230.0H2876.4V2226.3H2887.6V2224.2H2898.8V2226.6H2903.2" stroke="#f0e820" stroke-width="5" fill="none" stroke-linejoin="round"/>
<path d="M484.0 1499.4V1580.0" stroke="#585858" stroke-width="4.5"/><path d="M484.9 1503.1V1568.2" stroke="#9a9a9a" stroke-width="2.2"/><path d="M493.8 1499.4V1576.3" stroke="#303030" stroke-width="5.5"/><path d="M504.0 1498.1V1576.4" stroke="#303030" stroke-width="5.5"/><path d="M502.2 1506.3V1575.0" stroke="#9a9a9a" stroke-width="2.2"/><path d="M504.6 1523.0V1547.0" stroke="#e8e8e8" stroke-width="3"/><path d="M513.8 1501.1V1577.6" stroke="#303030" stroke-width="5.5"/><path d="M515.1 1500.0V1579.9" stroke="#d0d0d0" stroke-width="2.2"/><path d="M524.1 1500.5V1577.1" stroke="#484848" stroke-width="3.5"/><path d="M526.0 1514.1V1564.0" stroke="#d0d0d0" stroke-width="2.2"/><path d="M521.2 1523.0V1547.0" stroke="#e8e8e8" stroke-width="3"/><path d="M534.4 1501.3V1583.3" stroke="#303030" stroke-width="4.5"/><path d="M536.0 1514.6V1571.7" stroke="#d0d0d0" stroke-width="2.2"/><path d="M544.3 1502.3V1578.0" stroke="#585858" stroke-width="3.5"/><path d="M545.8 1514.8V1575.4" stroke="#808080" stroke-width="2.2"/><path d="M544.7 1523.0V1547.0" stroke="#e8e8e8" stroke-width="3"/><path d="M554.3 1501.5V1581.6" stroke="#3c3c3c" stroke-width="4.5"/><path d="M552.9 1500.2V1557.5" stroke="#d0d0d0" stroke-width="2.2"/><path d="M564.9 1498.3V1584.0" stroke="#303030" stroke-width="3.5"/><path d="M567.9 1515.1V1560.8" stroke="#808080" stroke-width="2.2"/><path d="M562.0 1523.0V1547.0" stroke="#e8e8e8" stroke-width="3"/><path d="M575.1 1496.4V1578.5" stroke="#303030" stroke-width="3.5"/><path d="M576.3 1506.3V1565.9" stroke="#808080" stroke-width="2.2"/><path d="M577.9 1523.0V1547.0" stroke="#e8e8e8" stroke-width="3"/><path d="M585.2 1498.4V1582.8" stroke="#3c3c3c" stroke-width="5.5"/><path d="M587.8 1504.3V1561.1" stroke="#9a9a9a" stroke-width="2.2"/><path d="M595.4 1497.5V1578.5" stroke="#585858" stroke-width="5.5"/><path d="M593.6 1515.1V1579.2" stroke="#808080" stroke-width="2.2"/><path d="M596.6 1523.0V1547.0" stroke="#e8e8e8" stroke-width="3"/><path d="M605.2 1496.4V1580.4" stroke="#484848" stroke-width="5.5"/><path d="M606.8 1513.8V1568.3" stroke="#808080" stroke-width="2.2"/><path d="M615.4 1502.4V1576.9" stroke="#3c3c3c" stroke-width="5.5"/><path d="M614.8 1511.8V1558.5" stroke="#d0d0d0" stroke-width="2.2"/><path d="M615.6 1523.0V1547.0" stroke="#e8e8e8" stroke-width="3"/><path d="M626.0 1502.3V1576.2" stroke="#585858" stroke-width="4.5"/><path d="M627.5 1506.5V1578.3" stroke="#9a9a9a" stroke-width="2.2"/><path d="M625.2 1523.0V1547.0" stroke="#e8e8e8" stroke-width="3"/><path d="M635.9 1502.7V1580.4" stroke="#303030" stroke-width="4.5"/><path d="M635.5 1500.0V1559.2" stroke="#9a9a9a" stroke-width="2.2"/><path d="M637.4 1523.0V1547.0" stroke="#e8e8e8" stroke-width="3"/><path d="M646.4 1497.1V1581.3" stroke="#484848" stroke-width="4.5"/><path d="M646.8 1502.0V1566.9" stroke="#808080" stroke-width="2.2"/><path d="M656.9 1498.4V1580.6" stroke="#585858" stroke-width="4.5"/><path d="M657.9 1514.3V1560.1" stroke="#808080" stroke-width="2.2"/><path d="M656.4 1523.0V1547.0" stroke="#e8e8e8" stroke-width="3"/><path d="M666.8 1495.5V1581.2" stroke="#585858" stroke-width="4.5"/><path d="M667.5 1510.9V1559.5" stroke="#808080" stroke-width="2.2"/><path d="M669.6 1523.0V1547.0" stroke="#e8e8e8" stroke-width="3"/><path d="M676.5 1496.8V1580.9" stroke="#585858" stroke-width="4.5"/><path d="M674.4 1523.0V1547.0" stroke="#e8e8e8" stroke-width="3"/><path d="M686.8 1498.9V1581.8" stroke="#484848" stroke-width="5.5"/><path d="M685.2 1523.0V1547.0" stroke="#e8e8e8" stroke-width="3"/><path d="M696.8 1501.0V1580.7" stroke="#3c3c3c" stroke-width="3.5"/><path d="M697.7 1512.4V1560.5" stroke="#b8b8b8" stroke-width="2.2"/><path d="M699.1 1523.0V1547.0" stroke="#e8e8e8" stroke-width="3"/><path d="M706.4 1502.5V1583.8" stroke="#3c3c3c" stroke-width="3.5"/><path d="M705.8 1502.7V1566.1" stroke="#9a9a9a" stroke-width="2.2"/><path d="M707.4 1523.0V1547.0" stroke="#e8e8e8" stroke-width="3"/><path d="M716.7 1496.3V1580.6" stroke="#484848" stroke-width="3.5"/><path d="M717.4 1523.0V1547.0" stroke="#e8e8e8" stroke-width="3"/><path d="M727.0 1500.8V1578.2" stroke="#303030" stroke-width="5.5"/><path d="M727.3 1503.6V1563.5" stroke="#808080" stroke-width="2.2"/><path d="M737.4 1495.1V1576.0" stroke="#303030" stroke-width="5.5"/><path d="M738.6 1500.7V1572.9" stroke="#b8b8b8" stroke-width="2.2"/><path d="M737.2 1523.0V1547.0" stroke="#e8e8e8" stroke-width="3"/><path d="M747.2 1502.9V1579.2" stroke="#303030" stroke-width="3.5"/><path d="M749.1 1509.6V1575.3" stroke="#9a9a9a" stroke-width="2.2"/><path d="M756.8 1495.5V1581.5" stroke="#3c3c3c" stroke-width="4.5"/><path d="M758.0 1509.8V1570.3" stroke="#808080" stroke-width="2.2"/><path d="M767.2 1495.4V1579.2" stroke="#3c3c3c" stroke-width="3.5"/><path d="M769.3 1512.4V1577.7" stroke="#808080" stroke-width="2.2"/><path d="M777.8 1498.7V1582.1" stroke="#484848" stroke-width="4.5"/><path d="M787.8 1502.3V1579.0" stroke="#585858" stroke-width="4.5"/><path d="M785.9 1509.0V1558.3" stroke="#808080" stroke-width="2.2"/><path d="M788.9 1523.0V1547.0" stroke="#e8e8e8" stroke-width="3"/><path d="M798.3 1499.2V1584.0" stroke="#585858" stroke-width="4.5"/><path d="M799.7 1508.8V1570.1" stroke="#9a9a9a" stroke-width="2.2"/><path d="M808.5 1501.7V1579.6" stroke="#484848" stroke-width="4.5"/><path d="M811.2 1511.0V1560.7" stroke="#9a9a9a" stroke-width="2.2"/><path d="M807.1 1523.0V1547.0" stroke="#e8e8e8" stroke-width="3"/><path d="M818.6 1499.7V1576.0" stroke="#303030" stroke-width="5.5"/><path d="M819.2 1507.6V1566.5" stroke="#808080" stroke-width="2.2"/><path d="M828.7 1499.1V1581.2" stroke="#303030" stroke-width="5.5"/><path d="M831.3 1511.5V1568.1" stroke="#d0d0d0" stroke-width="2.2"/><path d="M828.3 1523.0V1547.0" stroke="#e8e8e8" stroke-width="3"/><path d="M839.1 1495.8V1579.3" stroke="#484848" stroke-width="3.5"/><path d="M840.2 1513.7V1575.0" stroke="#b8b8b8" stroke-width="2.2"/><path d="M837.3 1523.0V1547.0" stroke="#e8e8e8" stroke-width="3"/><path d="M849.0 1497.5V1577.9" stroke="#484848" stroke-width="3.5"/><path d="M847.5 1502.3V1571.5" stroke="#808080" stroke-width="2.2"/><path d="M859.3 1496.0V1575.2" stroke="#585858" stroke-width="5.5"/><path d="M860.0 1507.4V1576.7" stroke="#9a9a9a" stroke-width="2.2"/><path d="M869.7 1501.1V1581.7" stroke="#484848" stroke-width="3.5"/><path d="M869.3 1512.3V1580.0" stroke="#9a9a9a" stroke-width="2.2"/><path d="M879.5 1501.1V1581.5" stroke="#484848" stroke-width="4.5"/><path d="M881.6 1507.2V1573.4" stroke="#d0d0d0" stroke-width="2.2"/><path d="M880.2 1523.0V1547.0" stroke="#e8e8e8" stroke-width="3"/><path d="M889.9 1502.2V1580.1" stroke="#484848" stroke-width="4.5"/><path d="M890.4 1507.8V1572.9" stroke="#b8b8b8" stroke-width="2.2"/><path d="M887.3 1523.0V1547.0" stroke="#e8e8e8" stroke-width="3"/><path d="M899.6 1502.7V1580.0" stroke="#585858" stroke-width="3.5"/><path d="M898.1 1502.5V1579.8" stroke="#9a9a9a" stroke-width="2.2"/><path d="M909.3 1502.5V1583.6" stroke="#585858" stroke-width="3.5"/><path d="M909.1 1523.0V1547.0" stroke="#e8e8e8" stroke-width="3"/><path d="M919.4 1499.6V1580.4" stroke="#303030" stroke-width="5.5"/><path d="M921.6 1509.3V1565.6" stroke="#9a9a9a" stroke-width="2.2"/><path d="M921.9 1523.0V1547.0" stroke="#e8e8e8" stroke-width="3"/><path d="M929.6 1502.2V1582.1" stroke="#484848" stroke-width="3.5"/><path d="M940.0 1498.0V1578.6" stroke="#3c3c3c" stroke-width="5.5"/><path d="M939.7 1511.3V1560.1" stroke="#b8b8b8" stroke-width="2.2"/><path d="M949.8 1495.5V1576.2" stroke="#484848" stroke-width="5.5"/><path d="M951.6 1509.4V1573.8" stroke="#9a9a9a" stroke-width="2.2"/><path d="M948.8 1523.0V1547.0" stroke="#e8e8e8" stroke-width="3"/><path d="M959.9 1502.9V1578.2" stroke="#303030" stroke-width="3.5"/><path d="M962.7 1510.4V1572.3" stroke="#b8b8b8" stroke-width="2.2"/><path d="M960.1 1523.0V1547.0" stroke="#e8e8e8" stroke-width="3"/><path d="M969.9 1495.0V1580.8" stroke="#303030" stroke-width="4.5"/><path d="M970.5 1523.0V1547.0" stroke="#e8e8e8" stroke-width="3"/><path d="M980.2 1500.9V1578.6" stroke="#303030" stroke-width="3.5"/><path d="M978.2 1511.8V1577.9" stroke="#b8b8b8" stroke-width="2.2"/><path d="M980.2 1523.0V1547.0" stroke="#e8e8e8" stroke-width="3"/><path d="M990.8 1498.5V1584.0" stroke="#585858" stroke-width="5.5"/><path d="M991.8 1509.7V1578.6" stroke="#808080" stroke-width="2.2"/><path d="M993.6 1523.0V1547.0" stroke="#e8e8e8" stroke-width="3"/><path d="M1001.2 1498.7V1580.4" stroke="#585858" stroke-width="4.5"/><path d="M1001.9 1510.0V1563.9" stroke="#b8b8b8" stroke-width="2.2"/><path d="M1011.4 1500.7V1581.4" stroke="#484848" stroke-width="3.5"/><path d="M1010.6 1505.8V1566.7" stroke="#808080" stroke-width="2.2"/><path d="M1021.0 1500.5V1578.6" stroke="#484848" stroke-width="3.5"/><path d="M1022.3 1523.0V1547.0" stroke="#e8e8e8" stroke-width="3"/><path d="M1030.9 1497.0V1575.4" stroke="#303030" stroke-width="5.5"/><path d="M1033.6 1523.0V1547.0" stroke="#e8e8e8" stroke-width="3"/><path d="M1040.7 1497.3V1575.5" stroke="#585858" stroke-width="4.5"/><path d="M1043.0 1507.4V1560.3" stroke="#b8b8b8" stroke-width="2.2"/><path d="M1041.7 1523.0V1547.0" stroke="#e8e8e8" stroke-width="3"/>
<path d="M484.0 1534.0 L488.0 1535.3 L492.0 1534.7 L496.0 1536.1 L500.0 1535.1 L504.0 1537.0 L508.0 1536.8 L512.0 1535.9 L516.0 1534.0 L520.0 1533.5 L524.0 1536.6 L528.0 1536.1 L532.0 1535.5 L536.0 1534.4 L540.0 1534.1 L544.0 1535.7 L548.0 1535.3 L552.0 1535.4 L556.0 1535.5 L560.0 1536.0 L564.0 1533.8 L568.0 1534.0 L572.0 1536.9 L576.0 1536.7 L580.0 1536.5 L584.0 1533.2 L588.0 1533.2 L592.0 1534.1 L596.0 1534.7 L600.0 1535.5 L604.0 1533.4 L608.0 1535.2 L612.0 1533.3 L616.0 1533.3 L620.0 1535.7 L624.0 1535.2 L628.0 1535.5 L632.0 1534.5 L636.0 1534.9 L640.0 1533.8 L644.0 1534.4 L648.0 1536.0 L652.0 1536.4 L656.0 1533.3 L660.0 1533.5 L664.0 1536.2 L668.0 1535.5 L672.0 1536.1 L676.0 1533.9 L680.0 1534.7 L684.0 1534.0 L688.0 1536.2 L692.0 1534.5 L696.0 1535.6 L700.0 1537.0 L704.0 1534.3 L708.0 1535.2 L712.0 1536.0 L716.0 1536.7 L720.0 1534.7 L724.0 1534.5 L728.0 1533.4 L732.0 1536.5 L736.0 1533.3 L740.0 1533.3 L744.0 1535.3 L748.0 1534.9 L752.0 1535.7 L756.0 1534.2 L760.0 1536.1 L764.0 1533.3 L768.0 1533.9 L772.0 1535.6 L776.0 1533.3 L780.0 1534.2 L784.0 1535.9 L788.0 1535.8 L792.0 1534.1 L796.0 1533.6 L800.0 1534.4 L804.0 1535.9 L808.0 1534.5 L812.0 1533.5 L816.0 1535.8 L820.0 1535.3 L824.0 1536.7 L828.0 1536.8 L832.0 1536.7 L836.0 1534.8 L840.0 1536.2 L844.0 1534.2 L848.0 1534.3 L852.0 1534.6 L856.0 1536.7 L860.0 1536.6 L864.0 1534.0 L868.0 1534.4 L872.0 1534.5 L876.0 1534.5 L880.0 1534.6 L884.0 1534.6 L888.0 1533.8 L892.0 1535.3 L896.0 1536.2 L900.0 1535.2 L904.0 1536.3 L908.0 1535.3 L912.0 1533.7 L916.0 1536.0 L920.0 1536.5 L924.0 1534.1 L928.0 1533.1 L932.0 1535.1 L936.0 1535.2 L940.0 1535.3 L944.0 1536.9 L948.0 1535.6 L952.0 1536.2 L956.0 1533.3 L960.0 1535.2 L964.0 1536.2 L968.0 1533.3 L972.0 1533.3 L976.0 1535.9 L980.0 1536.6 L984.0 1533.3 L988.0 1535.5 L992.0 1533.6 L996.0 1536.0 L1000.0 1535.6 L1004.0 1534.0 L1008.0 1533.9 L1012.0 1536.1 L1016.0 1535.1 L1020.0 1536.1 L1024.0 1534.6 L1028.0 1534.4 L1032.0 1536.9 L1036.0 1535.7 L1040.0 1535.0 L1044.0 1535.1" stroke="#f0f0f0" stroke-width="6.5" fill="none"/>
<path d="M1916.0 1492.2V1562.9" stroke="#484848" stroke-width="3.5"/><path d="M1919.0 1503.1V1558.4" stroke="#d0d0d0" stroke-width="2.2"/><path d="M1926.2 1491.5V1563.0" stroke="#3c3c3c" stroke-width="4.5"/><path d="M1925.9 1506.1V1558.6" stroke="#9a9a9a" stroke-width="2.2"/><path d="M1927.3 1512.0V1536.0" stroke="#e8e8e8" stroke-width="3"/><path d="M1936.1 1492.8V1564.6" stroke="#303030" stroke-width="3.5"/><path d="M1946.0 1488.1V1560.8" stroke="#585858" stroke-width="3.5"/><path d="M1948.8 1494.6V1553.6" stroke="#b8b8b8" stroke-width="2.2"/><path d="M1956.4 1491.6V1561.6" stroke="#303030" stroke-width="4.5"/><path d="M1957.8 1500.3V1550.3" stroke="#d0d0d0" stroke-width="2.2"/><path d="M1957.8 1512.0V1536.0" stroke="#e8e8e8" stroke-width="3"/><path d="M1967.0 1488.2V1563.0" stroke="#484848" stroke-width="4.5"/><path d="M1965.9 1512.0V1536.0" stroke="#e8e8e8" stroke-width="3"/><path d="M1976.9 1493.3V1560.3" stroke="#3c3c3c" stroke-width="3.5"/><path d="M1979.2 1499.7V1547.2" stroke="#808080" stroke-width="2.2"/><path d="M1976.2 1512.0V1536.0" stroke="#e8e8e8" stroke-width="3"/><path d="M1987.2 1495.2V1561.9" stroke="#3c3c3c" stroke-width="3.5"/><path d="M1985.4 1500.0V1554.4" stroke="#b8b8b8" stroke-width="2.2"/><path d="M1997.4 1493.1V1560.1" stroke="#585858" stroke-width="4.5"/><path d="M1999.6 1493.6V1546.2" stroke="#9a9a9a" stroke-width="2.2"/><path d="M2007.3 1494.5V1563.7" stroke="#303030" stroke-width="4.5"/><path d="M2017.1 1489.6V1561.5" stroke="#3c3c3c" stroke-width="5.5"/><path d="M2016.9 1506.6V1549.1" stroke="#9a9a9a" stroke-width="2.2"/><path d="M2027.5 1490.9V1559.1" stroke="#585858" stroke-width="4.5"/><path d="M2026.8 1494.5V1546.1" stroke="#d0d0d0" stroke-width="2.2"/><path d="M2029.8 1512.0V1536.0" stroke="#e8e8e8" stroke-width="3"/><path d="M2037.4 1488.4V1561.6" stroke="#585858" stroke-width="5.5"/><path d="M2047.5 1495.8V1557.0" stroke="#303030" stroke-width="3.5"/><path d="M2046.9 1503.6V1551.3" stroke="#9a9a9a" stroke-width="2.2"/><path d="M2057.7 1491.0V1565.3" stroke="#484848" stroke-width="3.5"/><path d="M2058.6 1495.9V1554.0" stroke="#d0d0d0" stroke-width="2.2"/><path d="M2056.9 1512.0V1536.0" stroke="#e8e8e8" stroke-width="3"/><path d="M2068.0 1491.5V1557.2" stroke="#3c3c3c" stroke-width="3.5"/><path d="M2078.5 1491.7V1564.1" stroke="#585858" stroke-width="3.5"/><path d="M2077.5 1493.9V1556.1" stroke="#b8b8b8" stroke-width="2.2"/><path d="M2079.3 1512.0V1536.0" stroke="#e8e8e8" stroke-width="3"/><path d="M2088.3 1491.7V1563.3" stroke="#585858" stroke-width="5.5"/><path d="M2088.3 1505.8V1549.3" stroke="#b8b8b8" stroke-width="2.2"/><path d="M2098.6 1493.5V1558.6" stroke="#585858" stroke-width="4.5"/><path d="M2097.6 1500.2V1544.1" stroke="#d0d0d0" stroke-width="2.2"/><path d="M2098.3 1512.0V1536.0" stroke="#e8e8e8" stroke-width="3"/><path d="M2109.1 1495.2V1559.0" stroke="#484848" stroke-width="4.5"/><path d="M2108.1 1502.8V1552.8" stroke="#d0d0d0" stroke-width="2.2"/><path d="M2111.5 1512.0V1536.0" stroke="#e8e8e8" stroke-width="3"/><path d="M2119.0 1492.0V1560.5" stroke="#3c3c3c" stroke-width="4.5"/><path d="M2121.3 1501.3V1556.3" stroke="#9a9a9a" stroke-width="2.2"/><path d="M2129.1 1492.5V1557.5" stroke="#303030" stroke-width="5.5"/><path d="M2128.7 1502.5V1552.5" stroke="#808080" stroke-width="2.2"/><path d="M2128.0 1512.0V1536.0" stroke="#e8e8e8" stroke-width="3"/><path d="M2138.9 1494.2V1561.9" stroke="#484848" stroke-width="4.5"/><path d="M2140.9 1501.3V1554.9" stroke="#b8b8b8" stroke-width="2.2"/><path d="M2140.7 1512.0V1536.0" stroke="#e8e8e8" stroke-width="3"/><path d="M2149.3 1491.1V1558.3" stroke="#484848" stroke-width="5.5"/><path d="M2150.5 1501.2V1554.7" stroke="#d0d0d0" stroke-width="2.2"/><path d="M2148.7 1512.0V1536.0" stroke="#e8e8e8" stroke-width="3"/><path d="M2159.2 1492.9V1560.6" stroke="#3c3c3c" stroke-width="3.5"/><path d="M2168.9 1493.9V1565.0" stroke="#484848" stroke-width="5.5"/><path d="M2179.4 1493.5V1564.9" stroke="#303030" stroke-width="5.5"/><path d="M2177.5 1504.2V1546.7" stroke="#9a9a9a" stroke-width="2.2"/><path d="M2189.9 1488.1V1564.0" stroke="#303030" stroke-width="5.5"/><path d="M2189.9 1512.0V1536.0" stroke="#e8e8e8" stroke-width="3"/><path d="M2199.7 1495.2V1557.1" stroke="#3c3c3c" stroke-width="4.5"/><path d="M2200.9 1502.0V1559.0" stroke="#d0d0d0" stroke-width="2.2"/><path d="M2210.2 1495.8V1564.6" stroke="#303030" stroke-width="3.5"/><path d="M2212.5 1493.6V1556.0" stroke="#808080" stroke-width="2.2"/><path d="M2209.7 1512.0V1536.0" stroke="#e8e8e8" stroke-width="3"/><path d="M2220.4 1490.0V1564.6" stroke="#3c3c3c" stroke-width="4.5"/><path d="M2219.0 1495.7V1558.9" stroke="#808080" stroke-width="2.2"/><path d="M2230.1 1490.5V1562.1" stroke="#303030" stroke-width="5.5"/><path d="M2232.7 1498.2V1551.8" stroke="#d0d0d0" stroke-width="2.2"/><path d="M2231.0 1512.0V1536.0" stroke="#e8e8e8" stroke-width="3"/><path d="M2240.5 1489.6V1560.5" stroke="#484848" stroke-width="3.5"/><path d="M2251.0 1493.1V1559.7" stroke="#585858" stroke-width="5.5"/><path d="M2250.4 1503.8V1552.2" stroke="#9a9a9a" stroke-width="2.2"/><path d="M2261.5 1489.9V1560.1" stroke="#585858" stroke-width="4.5"/><path d="M2263.9 1506.1V1549.5" stroke="#b8b8b8" stroke-width="2.2"/><path d="M2261.8 1512.0V1536.0" stroke="#e8e8e8" stroke-width="3"/><path d="M2271.9 1490.7V1561.0" stroke="#484848" stroke-width="4.5"/><path d="M2274.9 1496.7V1555.0" stroke="#808080" stroke-width="2.2"/><path d="M2272.2 1512.0V1536.0" stroke="#e8e8e8" stroke-width="3"/><path d="M2282.1 1491.4V1560.4" stroke="#484848" stroke-width="4.5"/><path d="M2285.1 1493.8V1554.4" stroke="#b8b8b8" stroke-width="2.2"/><path d="M2282.8 1512.0V1536.0" stroke="#e8e8e8" stroke-width="3"/><path d="M2292.6 1488.5V1562.6" stroke="#484848" stroke-width="3.5"/><path d="M2292.3 1506.4V1549.2" stroke="#d0d0d0" stroke-width="2.2"/><path d="M2294.6 1512.0V1536.0" stroke="#e8e8e8" stroke-width="3"/><path d="M2302.7 1489.1V1558.5" stroke="#585858" stroke-width="3.5"/><path d="M2301.6 1503.8V1544.3" stroke="#d0d0d0" stroke-width="2.2"/><path d="M2312.5 1493.8V1558.1" stroke="#3c3c3c" stroke-width="5.5"/><path d="M2314.2 1500.6V1560.8" stroke="#b8b8b8" stroke-width="2.2"/><path d="M2312.3 1512.0V1536.0" stroke="#e8e8e8" stroke-width="3"/><path d="M2322.5 1490.3V1563.8" stroke="#3c3c3c" stroke-width="5.5"/><path d="M2324.1 1502.0V1548.8" stroke="#b8b8b8" stroke-width="2.2"/><path d="M2324.8 1512.0V1536.0" stroke="#e8e8e8" stroke-width="3"/><path d="M2332.9 1492.9V1565.7" stroke="#585858" stroke-width="3.5"/><path d="M2333.5 1504.4V1551.0" stroke="#b8b8b8" stroke-width="2.2"/><path d="M2342.6 1492.4V1561.8" stroke="#3c3c3c" stroke-width="3.5"/><path d="M2344.5 1499.8V1548.8" stroke="#d0d0d0" stroke-width="2.2"/><path d="M2340.7 1512.0V1536.0" stroke="#e8e8e8" stroke-width="3"/><path d="M2353.0 1493.0V1561.8" stroke="#484848" stroke-width="5.5"/><path d="M2362.8 1494.3V1564.6" stroke="#303030" stroke-width="3.5"/><path d="M2363.4 1505.4V1554.7" stroke="#d0d0d0" stroke-width="2.2"/><path d="M2364.8 1512.0V1536.0" stroke="#e8e8e8" stroke-width="3"/><path d="M2373.2 1490.8V1560.9" stroke="#303030" stroke-width="4.5"/><path d="M2375.4 1505.9V1560.5" stroke="#808080" stroke-width="2.2"/><path d="M2373.6 1512.0V1536.0" stroke="#e8e8e8" stroke-width="3"/><path d="M2383.6 1488.8V1561.9" stroke="#303030" stroke-width="5.5"/><path d="M2386.1 1502.3V1544.4" stroke="#808080" stroke-width="2.2"/><path d="M2393.5 1493.5V1559.7" stroke="#484848" stroke-width="5.5"/><path d="M2394.1 1494.8V1555.4" stroke="#808080" stroke-width="2.2"/><path d="M2392.2 1512.0V1536.0" stroke="#e8e8e8" stroke-width="3"/><path d="M2403.2 1495.0V1557.4" stroke="#3c3c3c" stroke-width="3.5"/><path d="M2401.9 1504.5V1558.7" stroke="#9a9a9a" stroke-width="2.2"/><path d="M2413.8 1494.2V1560.6" stroke="#3c3c3c" stroke-width="4.5"/><path d="M2414.1 1496.5V1558.7" stroke="#b8b8b8" stroke-width="2.2"/><path d="M2423.7 1490.0V1560.9" stroke="#3c3c3c" stroke-width="3.5"/><path d="M2422.4 1512.0V1536.0" stroke="#e8e8e8" stroke-width="3"/><path d="M2433.9 1493.0V1560.2" stroke="#303030" stroke-width="5.5"/><path d="M2436.2 1502.8V1559.6" stroke="#808080" stroke-width="2.2"/><path d="M2436.5 1512.0V1536.0" stroke="#e8e8e8" stroke-width="3"/><path d="M2443.5 1493.5V1565.4" stroke="#3c3c3c" stroke-width="3.5"/><path d="M2446.3 1496.6V1561.9" stroke="#9a9a9a" stroke-width="2.2"/><path d="M2453.5 1493.9V1557.4" stroke="#3c3c3c" stroke-width="4.5"/><path d="M2451.7 1497.7V1552.1" stroke="#b8b8b8" stroke-width="2.2"/><path d="M2451.8 1512.0V1536.0" stroke="#e8e8e8" stroke-width="3"/><path d="M2463.1 1495.2V1561.3" stroke="#3c3c3c" stroke-width="5.5"/><path d="M2465.7 1497.1V1561.7" stroke="#d0d0d0" stroke-width="2.2"/><path d="M2473.4 1491.3V1558.5" stroke="#585858" stroke-width="5.5"/><path d="M2472.2 1497.9V1547.1" stroke="#9a9a9a" stroke-width="2.2"/><path d="M2470.8 1512.0V1536.0" stroke="#e8e8e8" stroke-width="3"/><path d="M2483.5 1488.6V1561.1" stroke="#303030" stroke-width="4.5"/><path d="M2486.0 1493.5V1560.4" stroke="#9a9a9a" stroke-width="2.2"/><path d="M2493.7 1494.8V1561.9" stroke="#3c3c3c" stroke-width="5.5"/><path d="M2494.7 1506.3V1552.0" stroke="#9a9a9a" stroke-width="2.2"/><path d="M2504.1 1494.9V1565.2" stroke="#585858" stroke-width="5.5"/><path d="M2502.5 1512.0V1536.0" stroke="#e8e8e8" stroke-width="3"/><path d="M2514.6 1488.2V1564.1" stroke="#3c3c3c" stroke-width="4.5"/><path d="M2515.6 1503.5V1550.5" stroke="#b8b8b8" stroke-width="2.2"/><path d="M2517.1 1512.0V1536.0" stroke="#e8e8e8" stroke-width="3"/><path d="M2524.8 1491.4V1557.3" stroke="#303030" stroke-width="4.5"/><path d="M2523.0 1512.0V1536.0" stroke="#e8e8e8" stroke-width="3"/><path d="M2534.8 1489.1V1558.6" stroke="#303030" stroke-width="5.5"/><path d="M2536.2 1512.0V1536.0" stroke="#e8e8e8" stroke-width="3"/><path d="M2544.5 1493.6V1558.9" stroke="#585858" stroke-width="5.5"/><path d="M2554.7 1495.3V1558.6" stroke="#484848" stroke-width="3.5"/><path d="M2564.3 1493.3V1565.6" stroke="#3c3c3c" stroke-width="3.5"/><path d="M2563.6 1503.3V1556.7" stroke="#b8b8b8" stroke-width="2.2"/><path d="M2565.2 1512.0V1536.0" stroke="#e8e8e8" stroke-width="3"/><path d="M2574.0 1491.2V1563.7" stroke="#585858" stroke-width="4.5"/><path d="M2573.4 1493.0V1545.0" stroke="#b8b8b8" stroke-width="2.2"/><path d="M2575.2 1512.0V1536.0" stroke="#e8e8e8" stroke-width="3"/><path d="M2584.5 1493.9V1563.9" stroke="#585858" stroke-width="4.5"/><path d="M2583.0 1504.7V1551.3" stroke="#808080" stroke-width="2.2"/><path d="M2584.8 1512.0V1536.0" stroke="#e8e8e8" stroke-width="3"/><path d="M2595.0 1489.6V1565.0" stroke="#585858" stroke-width="5.5"/><path d="M2597.5 1498.5V1546.2" stroke="#9a9a9a" stroke-width="2.2"/><path d="M2605.4 1492.4V1562.0" stroke="#3c3c3c" stroke-width="3.5"/><path d="M2604.4 1501.5V1548.9" stroke="#d0d0d0" stroke-width="2.2"/><path d="M2615.2 1494.9V1557.6" stroke="#3c3c3c" stroke-width="3.5"/><path d="M2618.2 1502.5V1548.2" stroke="#808080" stroke-width="2.2"/><path d="M2614.2 1512.0V1536.0" stroke="#e8e8e8" stroke-width="3"/><path d="M2624.8 1493.3V1559.1" stroke="#3c3c3c" stroke-width="3.5"/><path d="M2623.9 1496.6V1547.3" stroke="#808080" stroke-width="2.2"/><path d="M2627.7 1512.0V1536.0" stroke="#e8e8e8" stroke-width="3"/><path d="M2635.1 1490.2V1558.3" stroke="#484848" stroke-width="5.5"/><path d="M2633.2 1512.0V1536.0" stroke="#e8e8e8" stroke-width="3"/><path d="M2645.2 1495.1V1564.6" stroke="#484848" stroke-width="4.5"/><path d="M2646.3 1502.2V1544.9" stroke="#d0d0d0" stroke-width="2.2"/><path d="M2655.1 1490.0V1565.3" stroke="#303030" stroke-width="4.5"/><path d="M2655.6 1496.2V1556.4" stroke="#9a9a9a" stroke-width="2.2"/><path d="M2664.8 1492.6V1560.7" stroke="#303030" stroke-width="4.5"/><path d="M2667.7 1512.0V1536.0" stroke="#e8e8e8" stroke-width="3"/><path d="M2675.1 1488.1V1557.5" stroke="#585858" stroke-width="5.5"/><path d="M2675.7 1495.0V1554.0" stroke="#d0d0d0" stroke-width="2.2"/><path d="M2674.5 1512.0V1536.0" stroke="#e8e8e8" stroke-width="3"/><path d="M2685.3 1491.3V1565.5" stroke="#484848" stroke-width="3.5"/><path d="M2684.5 1503.0V1554.3" stroke="#d0d0d0" stroke-width="2.2"/><path d="M2695.1 1489.4V1564.5" stroke="#303030" stroke-width="3.5"/><path d="M2697.2 1494.8V1561.7" stroke="#d0d0d0" stroke-width="2.2"/><path d="M2705.4 1494.7V1565.2" stroke="#484848" stroke-width="5.5"/><path d="M2706.8 1493.2V1543.4" stroke="#d0d0d0" stroke-width="2.2"/><path d="M2715.1 1488.4V1564.1" stroke="#484848" stroke-width="5.5"/><path d="M2714.5 1498.2V1551.7" stroke="#b8b8b8" stroke-width="2.2"/><path d="M2725.4 1496.0V1562.8" stroke="#303030" stroke-width="5.5"/><path d="M2723.6 1499.5V1560.4" stroke="#9a9a9a" stroke-width="2.2"/><path d="M2727.5 1512.0V1536.0" stroke="#e8e8e8" stroke-width="3"/><path d="M2735.4 1492.5V1565.5" stroke="#585858" stroke-width="4.5"/><path d="M2735.2 1493.7V1545.0" stroke="#9a9a9a" stroke-width="2.2"/><path d="M2745.7 1493.8V1562.0" stroke="#585858" stroke-width="3.5"/><path d="M2744.2 1504.1V1552.3" stroke="#9a9a9a" stroke-width="2.2"/><path d="M2747.3 1512.0V1536.0" stroke="#e8e8e8" stroke-width="3"/><path d="M2756.1 1489.9V1562.6" stroke="#303030" stroke-width="3.5"/><path d="M2757.9 1512.0V1536.0" stroke="#e8e8e8" stroke-width="3"/><path d="M2766.5 1493.0V1561.5" stroke="#585858" stroke-width="5.5"/><path d="M2764.8 1504.9V1558.4" stroke="#9a9a9a" stroke-width="2.2"/><path d="M2767.6 1512.0V1536.0" stroke="#e8e8e8" stroke-width="3"/><path d="M2776.9 1493.7V1558.8" stroke="#585858" stroke-width="5.5"/><path d="M2775.5 1493.4V1559.3" stroke="#808080" stroke-width="2.2"/><path d="M2777.8 1512.0V1536.0" stroke="#e8e8e8" stroke-width="3"/><path d="M2786.8 1494.8V1557.1" stroke="#585858" stroke-width="5.5"/><path d="M2785.0 1505.6V1557.3" stroke="#b8b8b8" stroke-width="2.2"/><path d="M2787.4 1512.0V1536.0" stroke="#e8e8e8" stroke-width="3"/><path d="M2797.0 1489.2V1562.5" stroke="#3c3c3c" stroke-width="3.5"/><path d="M2797.4 1512.0V1536.0" stroke="#e8e8e8" stroke-width="3"/><path d="M2807.4 1488.2V1557.9" stroke="#585858" stroke-width="4.5"/><path d="M2809.7 1503.8V1560.7" stroke="#d0d0d0" stroke-width="2.2"/><path d="M2809.6 1512.0V1536.0" stroke="#e8e8e8" stroke-width="3"/><path d="M2817.8 1493.5V1559.0" stroke="#585858" stroke-width="3.5"/><path d="M2828.2 1491.0V1564.9" stroke="#3c3c3c" stroke-width="3.5"/><path d="M2827.3 1496.5V1557.6" stroke="#9a9a9a" stroke-width="2.2"/><path d="M2825.9 1512.0V1536.0" stroke="#e8e8e8" stroke-width="3"/><path d="M2838.6 1495.1V1562.2" stroke="#303030" stroke-width="4.5"/><path d="M2839.4 1497.9V1549.1" stroke="#9a9a9a" stroke-width="2.2"/><path d="M2841.0 1512.0V1536.0" stroke="#e8e8e8" stroke-width="3"/><path d="M2849.0 1494.6V1563.1" stroke="#3c3c3c" stroke-width="4.5"/><path d="M2851.5 1503.4V1545.4" stroke="#d0d0d0" stroke-width="2.2"/><path d="M2851.2 1512.0V1536.0" stroke="#e8e8e8" stroke-width="3"/><path d="M2859.4 1494.4V1563.7" stroke="#3c3c3c" stroke-width="5.5"/><path d="M2857.4 1500.5V1562.0" stroke="#808080" stroke-width="2.2"/><path d="M2859.2 1512.0V1536.0" stroke="#e8e8e8" stroke-width="3"/><path d="M2869.6 1490.8V1565.9" stroke="#303030" stroke-width="4.5"/><path d="M2868.3 1496.9V1550.7" stroke="#d0d0d0" stroke-width="2.2"/><path d="M2868.8 1512.0V1536.0" stroke="#e8e8e8" stroke-width="3"/><path d="M2879.6 1490.3V1562.9" stroke="#484848" stroke-width="5.5"/><path d="M2882.2 1512.0V1536.0" stroke="#e8e8e8" stroke-width="3"/><path d="M2889.7 1493.8V1557.2" stroke="#3c3c3c" stroke-width="4.5"/><path d="M2891.6 1495.8V1545.7" stroke="#b8b8b8" stroke-width="2.2"/><path d="M2900.1 1489.7V1561.6" stroke="#585858" stroke-width="3.5"/><path d="M2899.6 1499.9V1543.1" stroke="#b8b8b8" stroke-width="2.2"/>
<path d="M1916.0 1525.5 L1920.0 1525.4 L1924.0 1524.7 L1928.0 1524.0 L1932.0 1525.0 L1936.0 1522.9 L1940.0 1524.8 L1944.0 1523.9 L1948.0 1525.6 L1952.0 1523.4 L1956.0 1524.8 L1960.0 1524.1 L1964.0 1524.4 L1968.0 1525.3 L1972.0 1523.3 L1976.0 1522.3 L1980.0 1523.8 L1984.0 1522.5 L1988.0 1523.9 L1992.0 1522.1 L1996.0 1524.0 L2000.0 1523.9 L2004.0 1525.5 L2008.0 1524.3 L2012.0 1523.5 L2016.0 1525.4 L2020.0 1525.7 L2024.0 1524.9 L2028.0 1523.9 L2032.0 1524.9 L2036.0 1525.7 L2040.0 1524.4 L2044.0 1524.7 L2048.0 1524.9 L2052.0 1523.1 L2056.0 1524.7 L2060.0 1524.3 L2064.0 1524.1 L2068.0 1525.8 L2072.0 1525.0 L2076.0 1524.8 L2080.0 1523.6 L2084.0 1524.5 L2088.0 1525.7 L2092.0 1524.8 L2096.0 1522.3 L2100.0 1523.0 L2104.0 1522.7 L2108.0 1525.6 L2112.0 1522.9 L2116.0 1524.0 L2120.0 1525.2 L2124.0 1522.2 L2128.0 1523.9 L2132.0 1524.5 L2136.0 1522.9 L2140.0 1524.2 L2144.0 1523.1 L2148.0 1524.6 L2152.0 1524.2 L2156.0 1523.1 L2160.0 1525.2 L2164.0 1525.3 L2168.0 1523.4 L2172.0 1522.8 L2176.0 1522.0 L2180.0 1524.8 L2184.0 1525.6 L2188.0 1522.2 L2192.0 1525.2 L2196.0 1525.8 L2200.0 1525.1 L2204.0 1523.7 L2208.0 1524.0 L2212.0 1524.4 L2216.0 1526.0 L2220.0 1523.7 L2224.0 1525.5 L2228.0 1523.0 L2232.0 1522.6 L2236.0 1522.1 L2240.0 1523.8 L2244.0 1524.2 L2248.0 1523.5 L2252.0 1525.5 L2256.0 1524.0 L2260.0 1523.6 L2264.0 1524.7 L2268.0 1522.5 L2272.0 1525.3 L2276.0 1524.2 L2280.0 1524.5 L2284.0 1524.6 L2288.0 1524.0 L2292.0 1522.5 L2296.0 1524.4 L2300.0 1523.5 L2304.0 1522.9 L2308.0 1523.0 L2312.0 1523.2 L2316.0 1522.4 L2320.0 1523.1 L2324.0 1522.1 L2328.0 1522.2 L2332.0 1524.1 L2336.0 1522.3 L2340.0 1523.0 L2344.0 1523.5 L2348.0 1522.3 L2352.0 1523.5 L2356.0 1524.7 L2360.0 1524.4 L2364.0 1523.0 L2368.0 1525.9 L2372.0 1525.3 L2376.0 1522.9 L2380.0 1524.9 L2384.0 1524.1 L2388.0 1524.6 L2392.0 1524.1 L2396.0 1522.3 L2400.0 1524.5 L2404.0 1523.5 L2408.0 1524.3 L2412.0 1525.8 L2416.0 1523.3 L2420.0 1522.2 L2424.0 1525.1 L2428.0 1525.1 L2432.0 1525.6 L2436.0 1524.7 L2440.0 1522.2 L2444.0 1524.7 L2448.0 1524.1 L2452.0 1523.2 L2456.0 1522.4 L2460.0 1523.4 L2464.0 1522.4 L2468.0 1525.3 L2472.0 1523.2 L2476.0 1523.0 L2480.0 1524.9 L2484.0 1522.2 L2488.0 1525.6 L2492.0 1522.9 L2496.0 1524.8 L2500.0 1524.2 L2504.0 1523.7 L2508.0 1523.6 L2512.0 1524.6 L2516.0 1524.6 L2520.0 1522.4 L2524.0 1522.3 L2528.0 1524.1 L2532.0 1522.4 L2536.0 1524.8 L2540.0 1522.0 L2544.0 1523.9 L2548.0 1524.7 L2552.0 1522.2 L2556.0 1524.0 L2560.0 1525.0 L2564.0 1522.0 L2568.0 1524.2 L2572.0 1524.6 L2576.0 1522.8 L2580.0 1524.3 L2584.0 1525.5 L2588.0 1525.0 L2592.0 1523.9 L2596.0 1522.6 L2600.0 1525.9 L2604.0 1523.4 L2608.0 1525.2 L2612.0 1523.5 L2616.0 1523.3 L2620.0 1523.7 L2624.0 1524.3 L2628.0 1525.5 L2632.0 1524.9 L2636.0 1522.9 L2640.0 1523.4 L2644.0 1524.8 L2648.0 1522.4 L2652.0 1523.8 L2656.0 1523.8 L2660.0 1525.7 L2664.0 1522.4 L2668.0 1523.8 L2672.0 1523.0 L2676.0 1525.5 L2680.0 1525.4 L2684.0 1522.7 L2688.0 1523.2 L2692.0 1524.9 L2696.0 1522.8 L2700.0 1524.3 L2704.0 1523.0 L2708.0 1524.9 L2712.0 1523.2 L2716.0 1525.7 L2720.0 1524.4 L2724.0 1524.7 L2728.0 1523.4 L2732.0 1524.3 L2736.0 1523.4 L2740.0 1523.7 L2744.0 1524.1 L2748.0 1522.4 L2752.0 1524.7 L2756.0 1525.9 L2760.0 1522.6 L2764.0 1525.9 L2768.0 1523.9 L2772.0 1524.3 L2776.0 1525.7 L2780.0 1524.0 L2784.0 1525.2 L2788.0 1525.4 L2792.0 1524.1 L2796.0 1525.3 L2800.0 1523.0 L2804.0 1525.1 L2808.0 1522.3 L2812.0 1524.7 L2816.0 1525.7 L2820.0 1522.7 L2824.0 1524.2 L2828.0 1523.4 L2832.0 1523.7 L2836.0 1523.6 L2840.0 1524.4 L2844.0 1522.1 L2848.0 1523.5 L2852.0 1522.8 L2856.0 1525.7 L2860.0 1525.3 L2864.0 1522.5 L2868.0 1524.3 L2872.0 1525.1 L2876.0 1523.8 L2880.0 1524.5 L2884.0 1524.8 L2888.0 1522.7 L2892.0 1525.8 L2896.0 1523.2 L2900.0 1522.4" stroke="#f0f0f0" stroke-width="6.5" fill="none"/>
<path d="M1204.5 1572V2498" stroke="#4a8a70" stroke-width="2.2"/>
<path d="M1449 1572V1657" stroke="#a0a0a0" stroke-width="3"/>
<path d="M2723 1413V1604" stroke="#c8c8c8" stroke-width="3"/>
<path d="M2776.5 1690V1747" stroke="#707060" stroke-width="2.5"/><path d="M2776.5 1747V2163" stroke="#e8d820" stroke-width="3"/>
<path d="M2718.6 2340V2412" stroke="#a04020" stroke-width="3"/>
<rect x="1045" y="1411" width="871" height="161" fill="#f2e400"/>
<rect x="1045" y="1408.5" width="871" height="3" fill="#6a6450"/>
<text transform="translate(1067.5,1532.5) scale(0.935,1)" font-family="'Liberation Sans', sans-serif" font-weight="bold" font-size="133" fill="#000">FFR</text>
<text transform="translate(1916,1532.5) scale(0.97,1)" font-family="'Liberation Sans', sans-serif" font-weight="bold" font-size="129" fill="#000" text-anchor="end">0,86</text>
<path d="M499.3 1646.8 L563.1 1611.9 L567.9 1620.7 L529.6 1641.6 L880.0 1649.5 L840.3 1627.8 L845.1 1619.0 L908.9 1653.9 L845.1 1688.8 L840.3 1680.0 L878.6 1659.1 L528.2 1651.2 L567.9 1672.9 L563.1 1681.7Z" fill="#fff" stroke="#fff" stroke-width="9.0" stroke-linejoin="round"/>
<path d="M1737.8 1636.9 L1800.7 1602.0 L1805.6 1610.8 L1767.3 1632.0 L2313.2 1636.2 L2274.4 1614.8 L2279.3 1606.0 L2342.2 1640.9 L2279.3 1675.8 L2274.4 1667.0 L2312.7 1645.8 L1766.8 1641.6 L1805.6 1663.0 L1800.7 1671.8Z" fill="#fff" stroke="#fff" stroke-width="9.0" stroke-linejoin="round"/>
<path d="M497.7 2439.7 L558.9 2404.8 L563.9 2413.5 L526.3 2434.9 L730.7 2434.9 L693.1 2413.5 L698.1 2404.8 L759.3 2439.7 L698.1 2474.6 L693.1 2465.9 L730.7 2444.5 L526.3 2444.5 L563.9 2465.9 L558.9 2474.6Z" fill="#fff" stroke="#fff" stroke-width="9.0" stroke-linejoin="round"/>
<path d="M1796.8 2409.6 L1857.6 2376.7 L1862.3 2385.5 L1826.7 2404.8 L2088.9 2404.8 L2053.3 2385.5 L2058.0 2376.7 L2118.8 2409.6 L2058.0 2442.5 L2053.3 2433.7 L2088.9 2414.4 L1826.7 2414.4 L1862.3 2433.7 L1857.6 2442.5Z" fill="#fff" stroke="#fff" stroke-width="9.0" stroke-linejoin="round"/>
<text transform="translate(613.4,1858.3) scale(1.0,1)" font-family="'Liberation Sans', sans-serif" font-weight="bold" font-size="128.5" fill="#fff">46</text>
<text transform="translate(785.0,1858.3) scale(0.89,1)" font-family="'Liberation Sans', sans-serif" font-weight="bold" font-size="125.5" fill="#fff">sec</text>
<text transform="translate(1828.5,1838.3) scale(0.97,1)" font-family="'Liberation Sans', sans-serif" font-weight="bold" font-size="128.5" fill="#fff">63</text>
<text transform="translate(1999.1,1838.3) scale(0.89,1)" font-family="'Liberation Sans', sans-serif" font-weight="bold" font-size="125.5" fill="#fff">sec</text>
<text transform="translate(538,2583.5) scale(0.98,1)" font-family="'Liberation Sans', sans-serif" font-weight="bold" font-size="128.5" fill="#fff">28</text>
<text transform="translate(708.9,2583.5) scale(0.89,1)" font-family="'Liberation Sans', sans-serif" font-weight="bold" font-size="125.5" fill="#fff">sec</text>
<text transform="translate(1819.0,2554.2) scale(0.98,1)" font-family="'Liberation Sans', sans-serif" font-weight="bold" font-size="128.5" fill="#fff">44</text>
<text transform="translate(1991.1,2554.2) scale(0.89,1)" font-family="'Liberation Sans', sans-serif" font-weight="bold" font-size="125.5" fill="#fff">sec</text>
<rect x="1184.7" y="2499.6" width="43" height="86.5" fill="#000" stroke="#5aa060" stroke-width="3"/>
<text transform="translate(1215.7,2542.85) rotate(-90)" font-family="'Liberation Sans', sans-serif" font-weight="bold" font-size="27" fill="#78b868" text-anchor="middle" textLength="70" lengthAdjust="spacingAndGlyphs">FFR</text>
<rect x="2434.5" y="2458.5" width="38.6" height="83.5" fill="#000" stroke="#5aa060" stroke-width="3"/>
<text transform="translate(2463.3,2500.25) rotate(-90)" font-family="'Liberation Sans', sans-serif" font-weight="bold" font-size="27" fill="#78b868" text-anchor="middle" textLength="70" lengthAdjust="spacingAndGlyphs">FFR</text>
<text x="430" y="1432" font-family="'Liberation Sans', sans-serif" font-size="37" fill="#d0d0d0" stroke="#d0d0d0" stroke-width="1" textLength="42.900000000000006" lengthAdjust="spacingAndGlyphs">300</text>
<text x="430" y="1835" font-family="'Liberation Sans', sans-serif" font-size="37" fill="#d0d0d0" stroke="#d0d0d0" stroke-width="1" textLength="42.900000000000006" lengthAdjust="spacingAndGlyphs">200</text>
<text x="430" y="2234" font-family="'Liberation Sans', sans-serif" font-size="37" fill="#d0d0d0" stroke="#d0d0d0" stroke-width="1" textLength="42.900000000000006" lengthAdjust="spacingAndGlyphs">100</text>
<text x="460" y="2631" font-family="'Liberation Sans', sans-serif" font-size="37" fill="#d0d0d0" stroke="#d0d0d0" stroke-width="1" textLength="14.3" lengthAdjust="spacingAndGlyphs">0</text>
<path d="M477 1818.6H483M477 2220H483" stroke="#888" stroke-width="2.5"/>
<text x="1876.7" y="2628" font-family="'Liberation Sans', sans-serif" font-size="37" fill="#c8c8c8" stroke="#c8c8c8" stroke-width="0.8" text-anchor="middle" textLength="27" lengthAdjust="spacingAndGlyphs">10</text>
<text x="2023" y="2628" font-family="'Liberation Sans', sans-serif" font-size="37" fill="#c8c8c8" stroke="#c8c8c8" stroke-width="0.8" text-anchor="middle" textLength="27" lengthAdjust="spacingAndGlyphs">20</text>
<text x="2166" y="2628" font-family="'Liberation Sans', sans-serif" font-size="37" fill="#c8c8c8" stroke="#c8c8c8" stroke-width="0.8" text-anchor="middle" textLength="27" lengthAdjust="spacingAndGlyphs">30</text>
<text x="2309" y="2628" font-family="'Liberation Sans', sans-serif" font-size="37" fill="#c8c8c8" stroke="#c8c8c8" stroke-width="0.8" text-anchor="middle" textLength="27" lengthAdjust="spacingAndGlyphs">40</text>
<text x="2454" y="2628" font-family="'Liberation Sans', sans-serif" font-size="37" fill="#c8c8c8" stroke="#c8c8c8" stroke-width="0.8" text-anchor="middle" textLength="27" lengthAdjust="spacingAndGlyphs">50</text>
<text x="2599" y="2628" font-family="'Liberation Sans', sans-serif" font-size="37" fill="#c8c8c8" stroke="#c8c8c8" stroke-width="0.8" text-anchor="middle" textLength="27" lengthAdjust="spacingAndGlyphs">60</text>
<text x="2743" y="2628" font-family="'Liberation Sans', sans-serif" font-size="37" fill="#c8c8c8" stroke="#c8c8c8" stroke-width="0.8" text-anchor="middle" textLength="27" lengthAdjust="spacingAndGlyphs">70</text>
<text x="2886" y="2628" font-family="'Liberation Sans', sans-serif" font-size="37" fill="#c8c8c8" stroke="#c8c8c8" stroke-width="0.8" text-anchor="middle" textLength="27" lengthAdjust="spacingAndGlyphs">80</text>
</g>
</svg></body></html>
